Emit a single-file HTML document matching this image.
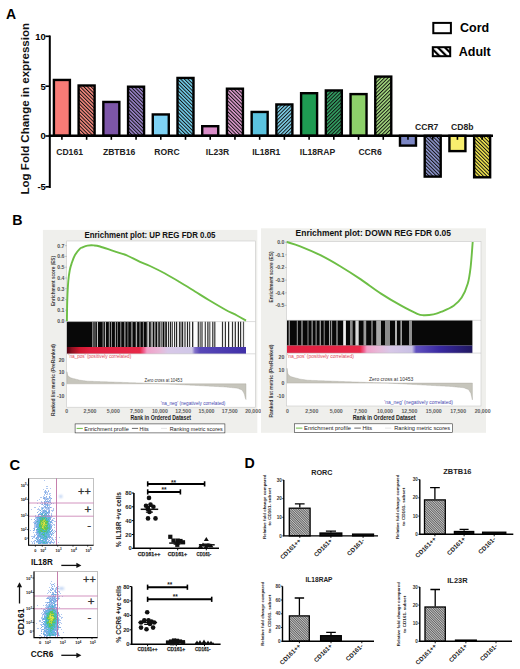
<!DOCTYPE html>
<html><head><meta charset="utf-8"><style>
html,body{margin:0;padding:0;background:#fff;width:520px;height:669px;overflow:hidden}
svg{display:block}
</style></head><body>
<svg width="520" height="669" viewBox="0 0 520 669">
<text x="6" y="18.5" font-size="14" font-weight="bold" font-family="Liberation Sans, sans-serif">A</text>
<text transform="translate(29.4,108.7) rotate(-90)" text-anchor="middle" font-size="11.7" font-weight="bold" fill="#111" textLength="171.5" lengthAdjust="spacingAndGlyphs" font-family="Liberation Sans, sans-serif">Log Fold Change in expression</text>
<rect x="53.90" y="79.95" width="16.00" height="55.85" fill="#F77B76" stroke="#000" stroke-width="2.4"/>
<defs><pattern id="h1" patternUnits="userSpaceOnUse" width="2.55" height="2.55" patternTransform="rotate(-45)"><rect width="2.55" height="2.55" fill="#F88A80"/><rect width="1.0" height="2.55" fill="#111"/></pattern></defs>
<rect x="78.62" y="85.50" width="16.00" height="50.30" fill="url(#h1)" stroke="#000" stroke-width="2.4"/>
<rect x="103.34" y="101.95" width="16.00" height="33.85" fill="#7D56A8" stroke="#000" stroke-width="2.4"/>
<defs><pattern id="h3" patternUnits="userSpaceOnUse" width="2.55" height="2.55" patternTransform="rotate(-45)"><rect width="2.55" height="2.55" fill="#9C84CC"/><rect width="1.0" height="2.55" fill="#111"/></pattern></defs>
<rect x="128.06" y="86.70" width="16.00" height="49.10" fill="url(#h3)" stroke="#000" stroke-width="2.4"/>
<rect x="152.78" y="114.45" width="16.00" height="21.35" fill="#7ED2F4" stroke="#000" stroke-width="2.4"/>
<defs><pattern id="h5" patternUnits="userSpaceOnUse" width="2.55" height="2.55" patternTransform="rotate(-45)"><rect width="2.55" height="2.55" fill="#74D2F0"/><rect width="1.0" height="2.55" fill="#111"/></pattern></defs>
<rect x="177.50" y="77.95" width="16.00" height="57.85" fill="url(#h5)" stroke="#000" stroke-width="2.4"/>
<rect x="202.22" y="126.20" width="16.00" height="9.60" fill="#D98DC8" stroke="#000" stroke-width="2.4"/>
<defs><pattern id="h7" patternUnits="userSpaceOnUse" width="2.55" height="2.55" patternTransform="rotate(-45)"><rect width="2.55" height="2.55" fill="#E09CD0"/><rect width="1.0" height="2.55" fill="#111"/></pattern></defs>
<rect x="226.94" y="88.70" width="16.00" height="47.10" fill="url(#h7)" stroke="#000" stroke-width="2.4"/>
<rect x="251.66" y="111.95" width="16.00" height="23.85" fill="#5BC3DF" stroke="#000" stroke-width="2.4"/>
<defs><pattern id="h9" patternUnits="userSpaceOnUse" width="2.55" height="2.55" patternTransform="rotate(45)"><rect width="2.55" height="2.55" fill="#80D4EE"/><rect width="1.0" height="2.55" fill="#111"/></pattern></defs>
<rect x="276.38" y="104.45" width="16.00" height="31.35" fill="url(#h9)" stroke="#000" stroke-width="2.4"/>
<rect x="301.10" y="93.20" width="16.00" height="42.60" fill="#1E9A52" stroke="#000" stroke-width="2.4"/>
<defs><pattern id="h11" patternUnits="userSpaceOnUse" width="2.55" height="2.55" patternTransform="rotate(45)"><rect width="2.55" height="2.55" fill="#33A464"/><rect width="1.0" height="2.55" fill="#111"/></pattern></defs>
<rect x="325.82" y="90.45" width="16.00" height="45.35" fill="url(#h11)" stroke="#000" stroke-width="2.4"/>
<rect x="350.54" y="94.10" width="16.00" height="41.70" fill="#8DD06A" stroke="#000" stroke-width="2.4"/>
<defs><pattern id="h13" patternUnits="userSpaceOnUse" width="2.55" height="2.55" patternTransform="rotate(45)"><rect width="2.55" height="2.55" fill="#A6DC80"/><rect width="1.0" height="2.55" fill="#111"/></pattern></defs>
<rect x="375.26" y="76.60" width="16.00" height="59.20" fill="url(#h13)" stroke="#000" stroke-width="2.4"/>
<rect x="399.98" y="135.80" width="16.00" height="9.80" fill="#7B86C4" stroke="#000" stroke-width="2.4"/>
<defs><pattern id="h15" patternUnits="userSpaceOnUse" width="2.55" height="2.55" patternTransform="rotate(-45)"><rect width="2.55" height="2.55" fill="#8E97D0"/><rect width="1.0" height="2.55" fill="#111"/></pattern></defs>
<rect x="424.70" y="135.80" width="16.00" height="40.80" fill="url(#h15)" stroke="#000" stroke-width="2.4"/>
<rect x="449.42" y="135.80" width="16.00" height="15.30" fill="#F8EE6E" stroke="#000" stroke-width="2.4"/>
<defs><pattern id="h17" patternUnits="userSpaceOnUse" width="2.55" height="2.55" patternTransform="rotate(-45)"><rect width="2.55" height="2.55" fill="#F5E950"/><rect width="1.0" height="2.55" fill="#111"/></pattern></defs>
<rect x="474.14" y="135.80" width="16.00" height="41.50" fill="url(#h17)" stroke="#000" stroke-width="2.4"/>
<line x1="49.8" y1="35.5" x2="49.8" y2="188" stroke="#000" stroke-width="2"/>
<line x1="45.4" y1="36.3" x2="50" y2="36.3" stroke="#000" stroke-width="1.6"/>
<line x1="45.4" y1="86.2" x2="50" y2="86.2" stroke="#000" stroke-width="1.6"/>
<line x1="45.4" y1="136.0" x2="50" y2="136.0" stroke="#000" stroke-width="1.6"/>
<line x1="45.4" y1="186.8" x2="50" y2="186.8" stroke="#000" stroke-width="1.6"/>
<line x1="48.8" y1="135.8" x2="493" y2="135.8" stroke="#000" stroke-width="2.4"/>
<line x1="61.90" y1="135.8" x2="61.90" y2="139.8" stroke="#000" stroke-width="1.6"/>
<line x1="86.62" y1="135.8" x2="86.62" y2="139.8" stroke="#000" stroke-width="1.6"/>
<line x1="111.34" y1="135.8" x2="111.34" y2="139.8" stroke="#000" stroke-width="1.6"/>
<line x1="136.06" y1="135.8" x2="136.06" y2="139.8" stroke="#000" stroke-width="1.6"/>
<line x1="160.78" y1="135.8" x2="160.78" y2="139.8" stroke="#000" stroke-width="1.6"/>
<line x1="185.50" y1="135.8" x2="185.50" y2="139.8" stroke="#000" stroke-width="1.6"/>
<line x1="210.22" y1="135.8" x2="210.22" y2="139.8" stroke="#000" stroke-width="1.6"/>
<line x1="234.94" y1="135.8" x2="234.94" y2="139.8" stroke="#000" stroke-width="1.6"/>
<line x1="259.66" y1="135.8" x2="259.66" y2="139.8" stroke="#000" stroke-width="1.6"/>
<line x1="284.38" y1="135.8" x2="284.38" y2="139.8" stroke="#000" stroke-width="1.6"/>
<line x1="309.10" y1="135.8" x2="309.10" y2="139.8" stroke="#000" stroke-width="1.6"/>
<line x1="333.82" y1="135.8" x2="333.82" y2="139.8" stroke="#000" stroke-width="1.6"/>
<line x1="358.54" y1="135.8" x2="358.54" y2="139.8" stroke="#000" stroke-width="1.6"/>
<line x1="383.26" y1="135.8" x2="383.26" y2="139.8" stroke="#000" stroke-width="1.6"/>
<line x1="407.98" y1="135.8" x2="407.98" y2="139.8" stroke="#000" stroke-width="1.6"/>
<line x1="432.70" y1="135.8" x2="432.70" y2="139.8" stroke="#000" stroke-width="1.6"/>
<line x1="457.42" y1="135.8" x2="457.42" y2="139.8" stroke="#000" stroke-width="1.6"/>
<line x1="482.14" y1="135.8" x2="482.14" y2="139.8" stroke="#000" stroke-width="1.6"/>
<text x="45.8" y="39.7" text-anchor="end" font-size="9.4" font-weight="bold" font-family="Liberation Sans, sans-serif">10</text>
<text x="45.8" y="89.6" text-anchor="end" font-size="9.4" font-weight="bold" font-family="Liberation Sans, sans-serif">5</text>
<text x="45.8" y="139.4" text-anchor="end" font-size="9.4" font-weight="bold" font-family="Liberation Sans, sans-serif">0</text>
<text x="45.8" y="190.2" text-anchor="end" font-size="9.4" font-weight="bold" font-family="Liberation Sans, sans-serif">-5</text>
<text x="56.2" y="154.6" font-size="8.6" font-weight="bold" fill="#222" font-family="Liberation Sans, sans-serif">CD161</text>
<text x="102.9" y="154.6" font-size="8.6" font-weight="bold" fill="#222" font-family="Liberation Sans, sans-serif">ZBTB16</text>
<text x="154.3" y="154.6" font-size="8.6" font-weight="bold" fill="#222" font-family="Liberation Sans, sans-serif">RORC</text>
<text x="205.8" y="154.6" font-size="8.6" font-weight="bold" fill="#222" font-family="Liberation Sans, sans-serif">IL23R</text>
<text x="252.2" y="154.6" font-size="8.6" font-weight="bold" fill="#222" font-family="Liberation Sans, sans-serif">IL18R1</text>
<text x="299.8" y="154.6" font-size="8.6" font-weight="bold" fill="#222" font-family="Liberation Sans, sans-serif">IL18RAP</text>
<text x="358.4" y="154.6" font-size="8.6" font-weight="bold" fill="#222" font-family="Liberation Sans, sans-serif">CCR6</text>
<text x="415" y="130" font-size="8.6" font-weight="bold" fill="#222" font-family="Liberation Sans, sans-serif">CCR7</text>
<text x="451" y="130" font-size="8.6" font-weight="bold" fill="#222" font-family="Liberation Sans, sans-serif">CD8b</text>
<rect x="433.3" y="22.9" width="17.6" height="10.3" fill="#fff" stroke="#000" stroke-width="2"/>
<defs><pattern id="hl" patternUnits="userSpaceOnUse" width="5" height="5" patternTransform="rotate(-45)"><rect width="5" height="5" fill="#fff"/><rect width="2.2" height="5" fill="#000"/></pattern></defs>
<rect x="432.8" y="47.2" width="17.4" height="9" fill="url(#hl)" stroke="#000" stroke-width="2"/>
<text x="460" y="32.3" font-size="12.5" font-weight="bold" font-family="Liberation Sans, sans-serif">Cord</text>
<text x="458.8" y="56" font-size="12.5" font-weight="bold" font-family="Liberation Sans, sans-serif">Adult</text>
<text x="12.3" y="224.5" font-size="14.2" font-weight="bold" font-family="Liberation Sans, sans-serif">B</text>
<rect x="42.9" y="229.9" width="214.4" height="203.1" fill="#EFEFEC"/>
<rect x="66.7" y="241.0" width="188.7" height="166.2" fill="#fff" stroke="#C8C8C8" stroke-width="0.6"/>
<text x="84.4" y="237.7" font-size="9.6" font-weight="bold" fill="#111" textLength="131.1" lengthAdjust="spacingAndGlyphs" font-family="Liberation Sans, sans-serif">Enrichment plot: UP REG FDR 0.05</text>
<text x="64.5" y="322.9" text-anchor="end" font-size="5.2" font-weight="bold" fill="#505050" font-family="Liberation Sans, sans-serif">0.0</text>
<line x1="65.2" y1="321.0" x2="66.7" y2="321.0" stroke="#888" stroke-width="0.5"/>
<text x="64.5" y="312.1" text-anchor="end" font-size="5.2" font-weight="bold" fill="#505050" font-family="Liberation Sans, sans-serif">0.1</text>
<line x1="65.2" y1="310.2" x2="66.7" y2="310.2" stroke="#888" stroke-width="0.5"/>
<text x="64.5" y="301.4" text-anchor="end" font-size="5.2" font-weight="bold" fill="#505050" font-family="Liberation Sans, sans-serif">0.2</text>
<line x1="65.2" y1="299.5" x2="66.7" y2="299.5" stroke="#888" stroke-width="0.5"/>
<text x="64.5" y="290.6" text-anchor="end" font-size="5.2" font-weight="bold" fill="#505050" font-family="Liberation Sans, sans-serif">0.3</text>
<line x1="65.2" y1="288.7" x2="66.7" y2="288.7" stroke="#888" stroke-width="0.5"/>
<text x="64.5" y="279.9" text-anchor="end" font-size="5.2" font-weight="bold" fill="#505050" font-family="Liberation Sans, sans-serif">0.4</text>
<line x1="65.2" y1="278.0" x2="66.7" y2="278.0" stroke="#888" stroke-width="0.5"/>
<text x="64.5" y="269.1" text-anchor="end" font-size="5.2" font-weight="bold" fill="#505050" font-family="Liberation Sans, sans-serif">0.5</text>
<line x1="65.2" y1="267.2" x2="66.7" y2="267.2" stroke="#888" stroke-width="0.5"/>
<text x="64.5" y="258.3" text-anchor="end" font-size="5.2" font-weight="bold" fill="#505050" font-family="Liberation Sans, sans-serif">0.6</text>
<line x1="65.2" y1="256.4" x2="66.7" y2="256.4" stroke="#888" stroke-width="0.5"/>
<text x="64.5" y="247.6" text-anchor="end" font-size="5.2" font-weight="bold" fill="#505050" font-family="Liberation Sans, sans-serif">0.7</text>
<line x1="65.2" y1="245.7" x2="66.7" y2="245.7" stroke="#888" stroke-width="0.5"/>
<text transform="translate(54.8,281.0) rotate(-90)" text-anchor="middle" font-size="5.8" font-weight="bold" fill="#3a3a3a" textLength="50.0" lengthAdjust="spacingAndGlyphs" font-family="Liberation Sans, sans-serif">Enrichment score (ES)</text>
<text transform="translate(54.8,380.0) rotate(-90)" text-anchor="middle" font-size="5.8" font-weight="bold" fill="#3a3a3a" textLength="72.0" lengthAdjust="spacingAndGlyphs" font-family="Liberation Sans, sans-serif">Ranked list metric (PreRanked)</text>
<rect x="66.9" y="321.6" width="99.1" height="25.4" fill="#080808"/>
<rect x="92.30" y="321.6" width="1.10" height="25.4" fill="#b0b0b0"/>
<rect x="94.50" y="321.6" width="1.00" height="25.4" fill="#8a8a8a"/>
<rect x="96.90" y="321.6" width="1.10" height="25.4" fill="#c0c0c0"/>
<rect x="102.60" y="321.6" width="1.00" height="25.4" fill="#999"/>
<rect x="104.90" y="321.6" width="1.00" height="25.4" fill="#ccc"/>
<rect x="108.80" y="321.6" width="1.00" height="25.4" fill="#a0a0a0"/>
<rect x="111.00" y="321.6" width="1.00" height="25.4" fill="#888"/>
<rect x="114.90" y="321.6" width="1.00" height="25.4" fill="#aaa"/>
<rect x="117.20" y="321.6" width="0.80" height="25.4" fill="#888"/>
<rect x="120.30" y="321.6" width="1.00" height="25.4" fill="#999"/>
<rect x="124.10" y="321.6" width="1.50" height="25.4" fill="#888"/>
<rect x="127.50" y="321.6" width="0.80" height="25.4" fill="#999"/>
<rect x="130.90" y="321.6" width="1.90" height="25.4" fill="#777"/>
<rect x="135.70" y="321.6" width="1.40" height="25.4" fill="#aaa"/>
<rect x="139.50" y="321.6" width="1.00" height="25.4" fill="#999"/>
<rect x="142.90" y="321.6" width="0.90" height="25.4" fill="#999"/>
<rect x="146.70" y="321.6" width="1.50" height="25.4" fill="#999"/>
<rect x="148.20" y="321.6" width="0.90" height="25.4" fill="#eee"/>
<rect x="150.60" y="321.6" width="2.40" height="25.4" fill="#999"/>
<rect x="154.40" y="321.6" width="1.00" height="25.4" fill="#ddd"/>
<rect x="157.30" y="321.6" width="1.00" height="25.4" fill="#eee"/>
<rect x="159.70" y="321.6" width="1.50" height="25.4" fill="#999"/>
<rect x="161.60" y="321.6" width="1.00" height="25.4" fill="#ddd"/>
<rect x="164.30" y="321.6" width="1.20" height="25.4" fill="#bbb"/>
<rect x="166.00" y="321.6" width="80.00" height="25.4" fill="#fcfcfc"/>
<rect x="165.70" y="321.6" width="1.20" height="25.4" fill="#111"/>
<rect x="167.90" y="321.6" width="1.20" height="25.4" fill="#2a2a2a"/>
<rect x="169.90" y="321.6" width="1.20" height="25.4" fill="#222"/>
<rect x="171.70" y="321.6" width="1.20" height="25.4" fill="#444"/>
<rect x="174.00" y="321.6" width="1.20" height="25.4" fill="#333"/>
<rect x="176.00" y="321.6" width="1.20" height="25.4" fill="#222"/>
<rect x="178.90" y="321.6" width="1.20" height="25.4" fill="#333"/>
<rect x="180.40" y="321.6" width="1.20" height="25.4" fill="#444"/>
<rect x="182.00" y="321.6" width="1.20" height="25.4" fill="#222"/>
<rect x="184.40" y="321.6" width="1.20" height="25.4" fill="#333"/>
<rect x="186.90" y="321.6" width="1.20" height="25.4" fill="#222"/>
<rect x="189.00" y="321.6" width="1.20" height="25.4" fill="#444"/>
<rect x="192.10" y="321.6" width="1.20" height="25.4" fill="#111"/>
<rect x="197.70" y="321.6" width="1.20" height="25.4" fill="#2a2a2a"/>
<rect x="199.60" y="321.6" width="1.20" height="25.4" fill="#555"/>
<rect x="201.40" y="321.6" width="1.20" height="25.4" fill="#333"/>
<rect x="204.70" y="321.6" width="1.20" height="25.4" fill="#444"/>
<rect x="207.30" y="321.6" width="1.20" height="25.4" fill="#222"/>
<rect x="209.20" y="321.6" width="1.20" height="25.4" fill="#555"/>
<rect x="212.20" y="321.6" width="1.20" height="25.4" fill="#2a2a2a"/>
<rect x="214.20" y="321.6" width="1.20" height="25.4" fill="#333"/>
<rect x="221.90" y="321.6" width="1.20" height="25.4" fill="#333"/>
<rect x="224.80" y="321.6" width="1.20" height="25.4" fill="#333"/>
<rect x="228.00" y="321.6" width="1.20" height="25.4" fill="#2a2a2a"/>
<rect x="231.90" y="321.6" width="1.20" height="25.4" fill="#333"/>
<rect x="234.70" y="321.6" width="1.20" height="25.4" fill="#2a2a2a"/>
<rect x="237.80" y="321.6" width="1.20" height="25.4" fill="#222"/>
<rect x="240.00" y="321.6" width="1.20" height="25.4" fill="#333"/>
<rect x="242.90" y="321.6" width="1.20" height="25.4" fill="#555"/>
<defs><linearGradient id="gL" x1="66.9" x2="246.0" gradientUnits="userSpaceOnUse"><stop offset="0.000" stop-color="#500010"/><stop offset="0.028" stop-color="#901020"/><stop offset="0.073" stop-color="#D01830"/><stop offset="0.128" stop-color="#E02040"/><stop offset="0.408" stop-color="#E82848"/><stop offset="0.430" stop-color="#F06090"/><stop offset="0.447" stop-color="#F0A0C8"/><stop offset="0.520" stop-color="#E8B8D8"/><stop offset="0.564" stop-color="#D8C8E8"/><stop offset="0.698" stop-color="#D0C8E8"/><stop offset="0.715" stop-color="#8070C8"/><stop offset="0.743" stop-color="#5848B8"/><stop offset="1.000" stop-color="#4030A8"/></linearGradient></defs>
<rect x="66.9" y="347.0" width="179.1" height="6.8" fill="url(#gL)"/>
<line x1="66.7" y1="321.6" x2="255.4" y2="321.6" stroke="#bbb" stroke-width="0.5"/>
<line x1="66.7" y1="353.8" x2="255.4" y2="353.8" stroke="#bbb" stroke-width="0.5"/>
<path d="M66.9,383.8 L66.90,371.79 L67.65,375.13 L68.39,376.33 L69.14,376.85 L69.89,377.37 L70.63,377.81 L71.38,378.01 L72.12,378.22 L72.87,378.42 L73.62,378.63 L74.36,378.81 L75.11,379.00 L75.86,379.19 L76.60,379.38 L77.35,379.57 L78.09,379.75 L78.84,379.94 L79.59,380.13 L80.33,380.25 L81.08,380.35 L81.83,380.45 L82.57,380.55 L83.32,380.65 L84.06,380.74 L84.81,380.84 L85.56,380.94 L86.30,381.04 L87.05,381.14 L87.80,381.17 L88.54,381.19 L89.29,381.22 L90.03,381.25 L90.78,381.27 L91.53,381.30 L92.27,381.33 L93.02,381.36 L93.77,381.38 L94.51,381.41 L95.26,381.44 L96.00,381.46 L96.75,381.49 L97.50,381.52 L98.24,381.54 L98.99,381.57 L99.74,381.60 L100.48,381.63 L101.23,381.65 L101.97,381.68 L102.72,381.71 L103.47,381.73 L104.21,381.76 L104.96,381.79 L105.70,381.81 L106.45,381.84 L107.20,381.87 L107.94,381.90 L108.69,381.92 L109.44,381.95 L110.18,381.98 L110.93,382.00 L111.68,382.03 L112.42,382.06 L113.17,382.08 L113.91,382.11 L114.66,382.14 L115.41,382.16 L116.15,382.19 L116.90,382.22 L117.65,382.24 L118.39,382.27 L119.14,382.30 L119.88,382.32 L120.63,382.35 L121.38,382.37 L122.12,382.40 L122.87,382.43 L123.62,382.45 L124.36,382.48 L125.11,382.51 L125.85,382.53 L126.60,382.56 L127.35,382.58 L128.09,382.61 L128.84,382.64 L129.59,382.66 L130.33,382.69 L131.08,382.72 L131.82,382.74 L132.57,382.77 L133.32,382.79 L134.06,382.82 L134.81,382.85 L135.56,382.87 L136.30,382.90 L137.05,382.93 L137.79,382.95 L138.54,382.98 L139.29,383.00 L140.03,383.03 L140.78,383.06 L141.53,383.08 L142.27,383.11 L143.02,383.13 L143.76,383.15 L144.51,383.18 L145.26,383.20 L146.00,383.22 L146.75,383.25 L147.50,383.27 L148.24,383.30 L148.99,383.32 L149.73,383.34 L150.48,383.37 L151.23,383.39 L151.97,383.41 L152.72,383.44 L153.47,383.46 L154.21,383.49 L154.96,383.51 L155.70,383.53 L156.45,383.56 L157.20,383.58 L157.94,383.60 L158.69,383.63 L159.44,383.65 L160.18,383.67 L160.93,383.70 L161.67,383.72 L162.42,383.75 L163.17,383.77 L163.91,383.79 L164.66,383.83 L165.41,383.87 L166.15,383.90 L166.90,383.94 L167.64,383.98 L168.39,384.02 L169.14,384.06 L169.88,384.10 L170.63,384.13 L171.38,384.17 L172.12,384.21 L172.87,384.25 L173.61,384.29 L174.36,384.32 L175.11,384.36 L175.85,384.40 L176.60,384.44 L177.34,384.48 L178.09,384.52 L178.84,384.55 L179.58,384.59 L180.33,384.63 L181.08,384.67 L181.82,384.71 L182.57,384.75 L183.31,384.78 L184.06,384.82 L184.81,384.86 L185.55,384.90 L186.30,384.94 L187.05,384.97 L187.79,385.01 L188.54,385.05 L189.28,385.09 L190.03,385.13 L190.78,385.17 L191.52,385.20 L192.27,385.24 L193.02,385.28 L193.76,385.32 L194.51,385.36 L195.25,385.40 L196.00,385.43 L196.75,385.47 L197.49,385.51 L198.24,385.55 L198.99,385.59 L199.73,385.63 L200.48,385.67 L201.22,385.70 L201.97,385.74 L202.72,385.78 L203.46,385.82 L204.21,385.86 L204.96,385.90 L205.70,385.94 L206.45,385.98 L207.19,386.01 L207.94,386.05 L208.69,386.09 L209.43,386.13 L210.18,386.17 L210.93,386.21 L211.67,386.25 L212.42,386.29 L213.16,386.32 L213.91,386.36 L214.66,386.40 L215.40,386.44 L216.15,386.48 L216.90,386.52 L217.64,386.56 L218.39,386.60 L219.14,386.63 L219.88,386.67 L220.63,386.71 L221.37,386.75 L222.12,386.79 L222.87,386.83 L223.61,386.87 L224.36,386.91 L225.10,386.94 L225.85,387.02 L226.60,387.09 L227.34,387.17 L228.09,387.24 L228.84,387.32 L229.58,387.39 L230.33,387.46 L231.08,387.54 L231.82,387.61 L232.57,387.69 L233.31,387.76 L234.06,387.84 L234.81,387.91 L235.55,387.99 L236.30,388.06 L237.04,388.13 L237.79,388.35 L238.54,388.62 L239.28,388.89 L240.03,389.16 L240.78,389.44 L241.52,389.71 L242.27,390.40 L243.01,391.56 L243.76,392.72 L244.51,394.61 L245.25,397.84 L246.00,399.53 L246.0,383.8 Z" fill="#C6C5BC" stroke="#A8A79E" stroke-width="0.4"/>
<text x="64.5" y="361.5" text-anchor="end" font-size="5.2" font-weight="bold" fill="#505050" font-family="Liberation Sans, sans-serif">20</text>
<text x="64.5" y="373.6" text-anchor="end" font-size="5.2" font-weight="bold" fill="#505050" font-family="Liberation Sans, sans-serif">10</text>
<text x="64.5" y="385.7" text-anchor="end" font-size="5.2" font-weight="bold" fill="#505050" font-family="Liberation Sans, sans-serif">0</text>
<text x="64.5" y="397.8" text-anchor="end" font-size="5.2" font-weight="bold" fill="#505050" font-family="Liberation Sans, sans-serif">-10</text>
<text x="68.5" y="357.8" font-size="4.6" fill="#E04858" textLength="62.7" lengthAdjust="spacingAndGlyphs" font-family="Liberation Sans, sans-serif">'na_pos' (positively correlated)</text>
<text x="144.6" y="381.8" font-size="4.6" fill="#333" textLength="37.7" lengthAdjust="spacingAndGlyphs" font-family="Liberation Sans, sans-serif">Zero cross at 10453</text>
<text x="160.8" y="405.0" font-size="4.6" fill="#4848B0" textLength="64.6" lengthAdjust="spacingAndGlyphs" font-family="Liberation Sans, sans-serif">'na_neg' (negatively correlated)</text>
<text x="66.7" y="413.4" text-anchor="middle" font-size="5.2" font-weight="bold" fill="#606060" font-family="Liberation Sans, sans-serif">0</text>
<text x="90.0" y="413.4" text-anchor="middle" font-size="5.2" font-weight="bold" fill="#606060" font-family="Liberation Sans, sans-serif">2,500</text>
<text x="113.3" y="413.4" text-anchor="middle" font-size="5.2" font-weight="bold" fill="#606060" font-family="Liberation Sans, sans-serif">5,000</text>
<text x="136.6" y="413.4" text-anchor="middle" font-size="5.2" font-weight="bold" fill="#606060" font-family="Liberation Sans, sans-serif">7,500</text>
<text x="159.9" y="413.4" text-anchor="middle" font-size="5.2" font-weight="bold" fill="#606060" font-family="Liberation Sans, sans-serif">10,000</text>
<text x="183.2" y="413.4" text-anchor="middle" font-size="5.2" font-weight="bold" fill="#606060" font-family="Liberation Sans, sans-serif">12,500</text>
<text x="206.5" y="413.4" text-anchor="middle" font-size="5.2" font-weight="bold" fill="#606060" font-family="Liberation Sans, sans-serif">15,000</text>
<text x="229.8" y="413.4" text-anchor="middle" font-size="5.2" font-weight="bold" fill="#606060" font-family="Liberation Sans, sans-serif">17,500</text>
<text x="253.1" y="413.4" text-anchor="middle" font-size="5.2" font-weight="bold" fill="#606060" font-family="Liberation Sans, sans-serif">20,000</text>
<text x="130.5" y="420.2" font-size="7" font-weight="bold" fill="#222" textLength="60.5" lengthAdjust="spacingAndGlyphs" font-family="Liberation Sans, sans-serif">Rank in Ordered Dataset</text>
<path d="M66.90,321.00 C66.97,317.42 67.07,306.17 67.30,299.50 C67.53,292.83 67.88,285.92 68.30,281.00 C68.72,276.08 69.25,272.92 69.80,270.00 C70.35,267.08 70.73,266.00 71.60,263.50 C72.47,261.00 73.60,257.47 75.00,255.00 C76.40,252.53 78.75,249.98 80.00,248.70 C81.25,247.42 81.25,247.82 82.50,247.30 C83.75,246.78 85.62,245.92 87.50,245.60 C89.38,245.28 91.72,245.25 93.80,245.40 C95.88,245.55 96.67,245.55 100.00,246.50 C103.33,247.45 109.70,249.77 113.80,251.10 C117.90,252.43 122.03,253.60 124.60,254.50 C127.17,255.40 126.63,255.28 129.20,256.50 C131.77,257.72 136.53,260.22 140.00,261.80 C143.47,263.38 145.83,264.05 150.00,266.00 C154.17,267.95 160.07,270.83 165.00,273.50 C169.93,276.17 174.60,279.00 179.60,282.00 C184.60,285.00 190.07,288.45 195.00,291.50 C199.93,294.55 204.20,297.30 209.20,300.30 C214.20,303.30 220.37,306.97 225.00,309.50 C229.63,312.03 233.50,313.65 237.00,315.50 C240.50,317.35 244.50,319.75 246.00,320.60" fill="none" stroke="#6DBE45" stroke-width="1.9" stroke-linejoin="round"/>
<rect x="75.1" y="423.9" width="149.8" height="9.0" fill="#fff" stroke="#333" stroke-width="0.6"/>
<line x1="76.6" y1="428.4" x2="82.8" y2="428.4" stroke="#6DBE45" stroke-width="1"/>
<text x="84.3" y="430.6" font-size="6.2" fill="#222" textLength="44.5" lengthAdjust="spacingAndGlyphs" font-family="Liberation Sans, sans-serif">Enrichment profile</text>
<line x1="131.9" y1="428.4" x2="138.1" y2="428.4" stroke="#444" stroke-width="0.8"/>
<text x="139.6" y="430.6" font-size="6.2" fill="#222" textLength="9.2" lengthAdjust="spacingAndGlyphs" font-family="Liberation Sans, sans-serif">Hits</text>
<line x1="161.0" y1="428.4" x2="167.0" y2="428.4" stroke="#ddd" stroke-width="0.8"/>
<text x="169.7" y="430.6" font-size="6.2" fill="#222" textLength="52.9" lengthAdjust="spacingAndGlyphs" font-family="Liberation Sans, sans-serif">Ranking metric scores</text>
<rect x="261.0" y="228.3" width="225.0" height="204.5" fill="#EFEFEC"/>
<rect x="286.6" y="241.6" width="194.4" height="164.4" fill="#fff" stroke="#C8C8C8" stroke-width="0.6"/>
<text x="295.6" y="235.7" font-size="9.6" font-weight="bold" fill="#111" textLength="155.4" lengthAdjust="spacingAndGlyphs" font-family="Liberation Sans, sans-serif">Enrichment plot: DOWN REG FDR 0.05</text>
<text x="284.4" y="244.1" text-anchor="end" font-size="5.2" font-weight="bold" fill="#505050" font-family="Liberation Sans, sans-serif">0.0</text>
<line x1="285.1" y1="242.2" x2="286.6" y2="242.2" stroke="#888" stroke-width="0.5"/>
<text x="284.4" y="256.7" text-anchor="end" font-size="5.2" font-weight="bold" fill="#505050" font-family="Liberation Sans, sans-serif">-0.1</text>
<line x1="285.1" y1="254.8" x2="286.6" y2="254.8" stroke="#888" stroke-width="0.5"/>
<text x="284.4" y="269.4" text-anchor="end" font-size="5.2" font-weight="bold" fill="#505050" font-family="Liberation Sans, sans-serif">-0.2</text>
<line x1="285.1" y1="267.5" x2="286.6" y2="267.5" stroke="#888" stroke-width="0.5"/>
<text x="284.4" y="282.0" text-anchor="end" font-size="5.2" font-weight="bold" fill="#505050" font-family="Liberation Sans, sans-serif">-0.3</text>
<line x1="285.1" y1="280.1" x2="286.6" y2="280.1" stroke="#888" stroke-width="0.5"/>
<text x="284.4" y="294.7" text-anchor="end" font-size="5.2" font-weight="bold" fill="#505050" font-family="Liberation Sans, sans-serif">-0.4</text>
<line x1="285.1" y1="292.8" x2="286.6" y2="292.8" stroke="#888" stroke-width="0.5"/>
<text x="284.4" y="307.3" text-anchor="end" font-size="5.2" font-weight="bold" fill="#505050" font-family="Liberation Sans, sans-serif">-0.5</text>
<line x1="285.1" y1="305.4" x2="286.6" y2="305.4" stroke="#888" stroke-width="0.5"/>
<text transform="translate(273.4,277.0) rotate(-90)" text-anchor="middle" font-size="5.8" font-weight="bold" fill="#3a3a3a" textLength="51.0" lengthAdjust="spacingAndGlyphs" font-family="Liberation Sans, sans-serif">Enrichment score (ES)</text>
<text transform="translate(273.4,381.0) rotate(-90)" text-anchor="middle" font-size="5.8" font-weight="bold" fill="#3a3a3a" textLength="73.0" lengthAdjust="spacingAndGlyphs" font-family="Liberation Sans, sans-serif">Ranked list metric (PreRanked)</text>
<rect x="287.0" y="320.3" width="185.4" height="25.3" fill="#080808"/>
<rect x="288.70" y="320.3" width="1.00" height="25.3" fill="#c0c0c0"/>
<rect x="296.80" y="320.3" width="1.00" height="25.3" fill="#a0a0a0"/>
<rect x="301.50" y="320.3" width="1.00" height="25.3" fill="#d0d0d0"/>
<rect x="307.50" y="320.3" width="1.00" height="25.3" fill="#909090"/>
<rect x="311.60" y="320.3" width="1.00" height="25.3" fill="#c0c0c0"/>
<rect x="315.60" y="320.3" width="1.00" height="25.3" fill="#a8a8a8"/>
<rect x="319.70" y="320.3" width="1.00" height="25.3" fill="#d0d0d0"/>
<rect x="323.70" y="320.3" width="1.00" height="25.3" fill="#909090"/>
<rect x="329.10" y="320.3" width="1.00" height="25.3" fill="#b8b8b8"/>
<rect x="331.10" y="320.3" width="1.00" height="25.3" fill="#a0a0a0"/>
<rect x="336.50" y="320.3" width="1.00" height="25.3" fill="#d0d0d0"/>
<rect x="343.20" y="320.3" width="2.70" height="25.3" fill="#f0f0f0"/>
<rect x="350.00" y="320.3" width="2.70" height="25.3" fill="#8a8a8a"/>
<rect x="355.40" y="320.3" width="3.30" height="25.3" fill="#d8d8d8"/>
<rect x="363.50" y="320.3" width="2.70" height="25.3" fill="#9a9a9a"/>
<rect x="371.50" y="320.3" width="1.00" height="25.3" fill="#c8c8c8"/>
<rect x="376.20" y="320.3" width="4.80" height="25.3" fill="#a8a8a8"/>
<rect x="385.00" y="320.3" width="5.00" height="25.3" fill="#8a8a8a"/>
<rect x="395.00" y="320.3" width="2.00" height="25.3" fill="#b0b0b0"/>
<rect x="400.50" y="320.3" width="1.30" height="25.3" fill="#c8c8c8"/>
<rect x="409.00" y="320.3" width="3.00" height="25.3" fill="#909090"/>
<defs><linearGradient id="gR" x1="287.0" x2="472.4" gradientUnits="userSpaceOnUse"><stop offset="0.000" stop-color="#E02040"/><stop offset="0.394" stop-color="#E82848"/><stop offset="0.415" stop-color="#F06090"/><stop offset="0.431" stop-color="#F0A0C8"/><stop offset="0.491" stop-color="#E8B8D8"/><stop offset="0.556" stop-color="#D8C8E8"/><stop offset="0.674" stop-color="#C8C0E4"/><stop offset="0.696" stop-color="#6050C0"/><stop offset="0.825" stop-color="#3828A0"/><stop offset="1.000" stop-color="#201860"/></linearGradient></defs>
<rect x="287.0" y="345.6" width="185.4" height="7.5" fill="url(#gR)"/>
<line x1="286.6" y1="320.3" x2="481.0" y2="320.3" stroke="#bbb" stroke-width="0.5"/>
<line x1="286.6" y1="353.1" x2="481.0" y2="353.1" stroke="#bbb" stroke-width="0.5"/>
<path d="M287.0,383.1 L287.00,368.27 L287.77,373.30 L288.55,374.98 L289.32,375.54 L290.09,376.09 L290.86,376.65 L291.63,376.87 L292.41,377.09 L293.18,377.31 L293.95,377.53 L294.73,377.73 L295.50,377.93 L296.27,378.13 L297.04,378.33 L297.81,378.53 L298.59,378.73 L299.36,378.93 L300.13,379.13 L300.90,379.28 L301.68,379.39 L302.45,379.49 L303.22,379.60 L304.00,379.71 L304.77,379.81 L305.54,379.92 L306.31,380.02 L307.08,380.13 L307.86,380.24 L308.63,380.28 L309.40,380.31 L310.18,380.34 L310.95,380.37 L311.72,380.40 L312.49,380.43 L313.26,380.46 L314.04,380.48 L314.81,380.51 L315.58,380.54 L316.36,380.57 L317.13,380.60 L317.90,380.63 L318.67,380.66 L319.44,380.69 L320.22,380.72 L320.99,380.74 L321.76,380.77 L322.53,380.80 L323.31,380.83 L324.08,380.86 L324.85,380.89 L325.62,380.92 L326.40,380.95 L327.17,380.97 L327.94,381.00 L328.71,381.03 L329.49,381.06 L330.26,381.09 L331.03,381.12 L331.81,381.15 L332.58,381.18 L333.35,381.20 L334.12,381.23 L334.89,381.26 L335.67,381.29 L336.44,381.32 L337.21,381.35 L337.99,381.37 L338.76,381.40 L339.53,381.43 L340.30,381.46 L341.07,381.49 L341.85,381.51 L342.62,381.54 L343.39,381.57 L344.16,381.60 L344.94,381.63 L345.71,381.65 L346.48,381.68 L347.25,381.71 L348.03,381.74 L348.80,381.77 L349.57,381.79 L350.34,381.82 L351.12,381.85 L351.89,381.88 L352.66,381.91 L353.44,381.93 L354.21,381.96 L354.98,381.99 L355.75,382.02 L356.52,382.05 L357.30,382.07 L358.07,382.10 L358.84,382.13 L359.62,382.16 L360.39,382.19 L361.16,382.21 L361.93,382.24 L362.70,382.27 L363.48,382.30 L364.25,382.33 L365.02,382.35 L365.80,382.38 L366.57,382.40 L367.34,382.43 L368.11,382.45 L368.88,382.48 L369.66,382.50 L370.43,382.53 L371.20,382.55 L371.97,382.58 L372.75,382.60 L373.52,382.63 L374.29,382.65 L375.06,382.68 L375.84,382.70 L376.61,382.73 L377.38,382.76 L378.15,382.78 L378.93,382.81 L379.70,382.83 L380.47,382.86 L381.25,382.88 L382.02,382.91 L382.79,382.93 L383.56,382.96 L384.33,382.98 L385.11,383.01 L385.88,383.03 L386.65,383.06 L387.42,383.08 L388.20,383.11 L388.97,383.15 L389.74,383.20 L390.51,383.24 L391.29,383.28 L392.06,383.32 L392.83,383.36 L393.61,383.40 L394.38,383.44 L395.15,383.48 L395.92,383.52 L396.69,383.56 L397.47,383.60 L398.24,383.64 L399.01,383.68 L399.78,383.72 L400.56,383.77 L401.33,383.81 L402.10,383.85 L402.88,383.89 L403.65,383.93 L404.42,383.97 L405.19,384.01 L405.96,384.05 L406.74,384.09 L407.51,384.13 L408.28,384.17 L409.06,384.21 L409.83,384.25 L410.60,384.30 L411.37,384.34 L412.14,384.38 L412.92,384.42 L413.69,384.46 L414.46,384.50 L415.24,384.54 L416.01,384.58 L416.78,384.62 L417.55,384.66 L418.32,384.70 L419.10,384.74 L419.87,384.78 L420.64,384.82 L421.41,384.87 L422.19,384.91 L422.96,384.95 L423.73,384.99 L424.50,385.03 L425.28,385.07 L426.05,385.11 L426.82,385.15 L427.59,385.19 L428.37,385.24 L429.14,385.28 L429.91,385.32 L430.68,385.36 L431.46,385.40 L432.23,385.44 L433.00,385.48 L433.77,385.53 L434.55,385.57 L435.32,385.61 L436.09,385.65 L436.87,385.69 L437.64,385.73 L438.41,385.77 L439.18,385.81 L439.95,385.86 L440.73,385.90 L441.50,385.94 L442.27,385.98 L443.04,386.02 L443.82,386.06 L444.59,386.10 L445.36,386.14 L446.13,386.19 L446.91,386.23 L447.68,386.27 L448.45,386.31 L449.22,386.35 L450.00,386.39 L450.77,386.43 L451.54,386.49 L452.31,386.57 L453.09,386.65 L453.86,386.73 L454.63,386.81 L455.40,386.89 L456.18,386.97 L456.95,387.05 L457.72,387.13 L458.50,387.21 L459.27,387.29 L460.04,387.37 L460.81,387.45 L461.58,387.53 L462.36,387.61 L463.13,387.68 L463.90,387.82 L464.67,388.11 L465.45,388.39 L466.22,388.68 L466.99,388.97 L467.76,389.26 L468.54,389.55 L469.31,390.79 L470.08,392.03 L470.86,393.27 L471.63,396.43 L472.40,399.87 L472.4,383.1 Z" fill="#C6C5BC" stroke="#A8A79E" stroke-width="0.4"/>
<text x="284.4" y="359.2" text-anchor="end" font-size="5.2" font-weight="bold" fill="#505050" font-family="Liberation Sans, sans-serif">20</text>
<text x="284.4" y="372.1" text-anchor="end" font-size="5.2" font-weight="bold" fill="#505050" font-family="Liberation Sans, sans-serif">10</text>
<text x="284.4" y="385.0" text-anchor="end" font-size="5.2" font-weight="bold" fill="#505050" font-family="Liberation Sans, sans-serif">0</text>
<text x="284.4" y="397.9" text-anchor="end" font-size="5.2" font-weight="bold" fill="#505050" font-family="Liberation Sans, sans-serif">-10</text>
<text x="287.3" y="358.0" font-size="4.6" fill="#E04858" textLength="66.6" lengthAdjust="spacingAndGlyphs" font-family="Liberation Sans, sans-serif">'na_pos' (positively correlated)</text>
<text x="368.9" y="381.1" font-size="4.6" fill="#333" textLength="44.4" lengthAdjust="spacingAndGlyphs" font-family="Liberation Sans, sans-serif">Zero cross at 10453</text>
<text x="384.2" y="403.6" font-size="4.6" fill="#4848B0" textLength="68.7" lengthAdjust="spacingAndGlyphs" font-family="Liberation Sans, sans-serif">'na_neg' (negatively correlated)</text>
<text x="287.4" y="413.1" text-anchor="middle" font-size="5.2" font-weight="bold" fill="#606060" font-family="Liberation Sans, sans-serif">0</text>
<text x="311.8" y="413.1" text-anchor="middle" font-size="5.2" font-weight="bold" fill="#606060" font-family="Liberation Sans, sans-serif">2,500</text>
<text x="336.2" y="413.1" text-anchor="middle" font-size="5.2" font-weight="bold" fill="#606060" font-family="Liberation Sans, sans-serif">5,000</text>
<text x="360.6" y="413.1" text-anchor="middle" font-size="5.2" font-weight="bold" fill="#606060" font-family="Liberation Sans, sans-serif">7,500</text>
<text x="385.0" y="413.1" text-anchor="middle" font-size="5.2" font-weight="bold" fill="#606060" font-family="Liberation Sans, sans-serif">10,000</text>
<text x="409.4" y="413.1" text-anchor="middle" font-size="5.2" font-weight="bold" fill="#606060" font-family="Liberation Sans, sans-serif">12,500</text>
<text x="433.8" y="413.1" text-anchor="middle" font-size="5.2" font-weight="bold" fill="#606060" font-family="Liberation Sans, sans-serif">15,000</text>
<text x="458.2" y="413.1" text-anchor="middle" font-size="5.2" font-weight="bold" fill="#606060" font-family="Liberation Sans, sans-serif">17,500</text>
<text x="482.6" y="413.1" text-anchor="middle" font-size="5.2" font-weight="bold" fill="#606060" font-family="Liberation Sans, sans-serif">20,000</text>
<text x="352.7" y="419.9" font-size="7" font-weight="bold" fill="#222" textLength="62.8" lengthAdjust="spacingAndGlyphs" font-family="Liberation Sans, sans-serif">Rank in Ordered Dataset</text>
<path d="M286.80,242.00 C289.03,242.72 294.60,244.10 300.20,246.30 C305.80,248.50 313.67,251.83 320.40,255.20 C327.13,258.57 333.87,262.47 340.60,266.50 C347.33,270.53 354.07,274.88 360.80,279.40 C367.53,283.92 374.27,289.22 381.00,293.60 C387.73,297.98 395.15,302.33 401.20,305.70 C407.25,309.07 413.60,312.22 417.30,313.80 C421.00,315.38 420.70,315.10 423.40,315.20 C426.10,315.30 430.47,314.98 433.50,314.40 C436.53,313.82 438.23,313.15 441.60,311.70 C444.97,310.25 450.35,308.05 453.70,305.70 C457.05,303.35 459.35,301.30 461.70,297.60 C464.05,293.90 466.32,288.55 467.80,283.50 C469.28,278.45 469.78,274.22 470.60,267.30 C471.42,260.38 472.35,246.22 472.70,242.00" fill="none" stroke="#6DBE45" stroke-width="1.9" stroke-linejoin="round"/>
<rect x="294.3" y="423.8" width="158.2" height="8.5" fill="#fff" stroke="#333" stroke-width="0.6"/>
<line x1="295.9" y1="428.1" x2="302.4" y2="428.1" stroke="#6DBE45" stroke-width="1"/>
<text x="304.0" y="430.2" font-size="6.2" fill="#222" textLength="47.0" lengthAdjust="spacingAndGlyphs" font-family="Liberation Sans, sans-serif">Enrichment profile</text>
<line x1="354.3" y1="428.1" x2="360.8" y2="428.1" stroke="#444" stroke-width="0.8"/>
<text x="362.4" y="430.2" font-size="6.2" fill="#222" textLength="9.7" lengthAdjust="spacingAndGlyphs" font-family="Liberation Sans, sans-serif">Hits</text>
<line x1="385.0" y1="428.1" x2="391.3" y2="428.1" stroke="#ddd" stroke-width="0.8"/>
<text x="394.2" y="430.2" font-size="6.2" fill="#222" textLength="55.9" lengthAdjust="spacingAndGlyphs" font-family="Liberation Sans, sans-serif">Ranking metric scores</text>
<defs><filter id="bl0" x="-20%" y="-20%" width="140%" height="140%"><feGaussianBlur stdDeviation="0.45"/></filter><filter id="bl1" x="-50%" y="-50%" width="200%" height="200%"><feGaussianBlur stdDeviation="0.8"/></filter><filter id="bl2" x="-50%" y="-50%" width="200%" height="200%"><feGaussianBlur stdDeviation="2.5"/></filter></defs>
<text x="9.4" y="469.9" font-size="14.7" font-weight="bold" font-family="Liberation Sans, sans-serif">C</text>
<rect x="28.6" y="478.4" width="65.0" height="66.8" fill="#fff" stroke="#999" stroke-width="0.6"/>
<clipPath id="fc1"><rect x="28.6" y="478.4" width="65.0" height="66.8"/></clipPath>
<g clip-path="url(#fc1)">
<g filter="url(#bl0)">
<rect x="44" y="480" width="1" height="1" fill="#B0C8F0"/>
<rect x="46" y="486" width="2" height="1" fill="#B0C8F0"/>
<rect x="46" y="488" width="2" height="1" fill="#B0C8F0"/>
<rect x="50" y="488" width="1" height="1" fill="#B0C8F0"/>
<rect x="43" y="489" width="1" height="1" fill="#B0C8F0"/>
<rect x="45" y="490" width="1" height="1" fill="#84ACE6"/>
<rect x="48" y="490" width="1" height="1" fill="#B0C8F0"/>
<rect x="44" y="491" width="3" height="1" fill="#B0C8F0"/>
<rect x="48" y="491" width="1" height="1" fill="#84ACE6"/>
<rect x="44" y="492" width="1" height="1" fill="#B0C8F0"/>
<rect x="45" y="492" width="1" height="1" fill="#84ACE6"/>
<rect x="46" y="492" width="2" height="1" fill="#B0C8F0"/>
<rect x="45" y="493" width="1" height="1" fill="#84ACE6"/>
<rect x="47" y="493" width="1" height="1" fill="#B0C8F0"/>
<rect x="49" y="493" width="2" height="1" fill="#B0C8F0"/>
<rect x="44" y="494" width="1" height="1" fill="#B0C8F0"/>
<rect x="46" y="494" width="2" height="1" fill="#B0C8F0"/>
<rect x="49" y="494" width="1" height="1" fill="#B0C8F0"/>
<rect x="44" y="495" width="1" height="1" fill="#B0C8F0"/>
<rect x="50" y="495" width="1" height="1" fill="#B0C8F0"/>
<rect x="43" y="496" width="1" height="1" fill="#B0C8F0"/>
<rect x="46" y="496" width="1" height="1" fill="#84ACE6"/>
<rect x="49" y="496" width="1" height="1" fill="#84ACE6"/>
<rect x="40" y="497" width="2" height="1" fill="#B0C8F0"/>
<rect x="43" y="497" width="1" height="1" fill="#B0C8F0"/>
<rect x="44" y="497" width="1" height="1" fill="#84ACE6"/>
<rect x="45" y="497" width="2" height="1" fill="#B0C8F0"/>
<rect x="49" y="497" width="1" height="1" fill="#84ACE6"/>
<rect x="50" y="497" width="1" height="1" fill="#B0C8F0"/>
<rect x="43" y="498" width="2" height="1" fill="#84ACE6"/>
<rect x="45" y="498" width="2" height="1" fill="#B0C8F0"/>
<rect x="47" y="498" width="1" height="1" fill="#84ACE6"/>
<rect x="48" y="498" width="3" height="1" fill="#B0C8F0"/>
<rect x="51" y="498" width="1" height="1" fill="#84ACE6"/>
<rect x="39" y="499" width="1" height="1" fill="#B0C8F0"/>
<rect x="44" y="499" width="2" height="1" fill="#B0C8F0"/>
<rect x="46" y="499" width="1" height="1" fill="#84ACE6"/>
<rect x="47" y="499" width="2" height="1" fill="#B0C8F0"/>
<rect x="50" y="499" width="1" height="1" fill="#B0C8F0"/>
<rect x="37" y="500" width="1" height="1" fill="#B0C8F0"/>
<rect x="45" y="500" width="1" height="1" fill="#84ACE6"/>
<rect x="47" y="500" width="1" height="1" fill="#B0C8F0"/>
<rect x="49" y="500" width="1" height="1" fill="#84ACE6"/>
<rect x="50" y="500" width="1" height="1" fill="#B0C8F0"/>
<rect x="41" y="501" width="1" height="1" fill="#B0C8F0"/>
<rect x="44" y="501" width="1" height="1" fill="#84ACE6"/>
<rect x="45" y="501" width="1" height="1" fill="#B0C8F0"/>
<rect x="46" y="501" width="3" height="1" fill="#84ACE6"/>
<rect x="49" y="501" width="2" height="1" fill="#B0C8F0"/>
<rect x="41" y="502" width="2" height="1" fill="#B0C8F0"/>
<rect x="44" y="502" width="1" height="1" fill="#84ACE6"/>
<rect x="45" y="502" width="2" height="1" fill="#B0C8F0"/>
<rect x="48" y="502" width="1" height="1" fill="#84ACE6"/>
<rect x="49" y="502" width="1" height="1" fill="#B0C8F0"/>
<rect x="50" y="502" width="1" height="1" fill="#84ACE6"/>
<rect x="37" y="503" width="1" height="1" fill="#B0C8F0"/>
<rect x="40" y="503" width="1" height="1" fill="#B0C8F0"/>
<rect x="42" y="503" width="1" height="1" fill="#B0C8F0"/>
<rect x="44" y="503" width="2" height="1" fill="#84ACE6"/>
<rect x="47" y="503" width="1" height="1" fill="#60B4E0"/>
<rect x="51" y="503" width="1" height="1" fill="#84ACE6"/>
<rect x="53" y="503" width="1" height="1" fill="#B0C8F0"/>
<rect x="41" y="504" width="1" height="1" fill="#B0C8F0"/>
<rect x="42" y="504" width="1" height="1" fill="#84ACE6"/>
<rect x="44" y="504" width="4" height="1" fill="#84ACE6"/>
<rect x="48" y="504" width="3" height="1" fill="#B0C8F0"/>
<rect x="43" y="505" width="1" height="1" fill="#B0C8F0"/>
<rect x="45" y="505" width="2" height="1" fill="#B0C8F0"/>
<rect x="47" y="505" width="1" height="1" fill="#60B4E0"/>
<rect x="48" y="505" width="2" height="1" fill="#B0C8F0"/>
<rect x="39" y="506" width="1" height="1" fill="#B0C8F0"/>
<rect x="44" y="506" width="2" height="1" fill="#84ACE6"/>
<rect x="47" y="506" width="1" height="1" fill="#84ACE6"/>
<rect x="49" y="506" width="1" height="1" fill="#B0C8F0"/>
<rect x="34" y="507" width="2" height="1" fill="#B0C8F0"/>
<rect x="41" y="507" width="4" height="1" fill="#B0C8F0"/>
<rect x="45" y="507" width="2" height="1" fill="#84ACE6"/>
<rect x="47" y="507" width="1" height="1" fill="#B0C8F0"/>
<rect x="48" y="507" width="1" height="1" fill="#84ACE6"/>
<rect x="49" y="507" width="1" height="1" fill="#B0C8F0"/>
<rect x="50" y="507" width="1" height="1" fill="#84ACE6"/>
<rect x="51" y="507" width="1" height="1" fill="#B0C8F0"/>
<rect x="38" y="508" width="1" height="1" fill="#B0C8F0"/>
<rect x="41" y="508" width="1" height="1" fill="#B0C8F0"/>
<rect x="42" y="508" width="1" height="1" fill="#60B4E0"/>
<rect x="43" y="508" width="1" height="1" fill="#B0C8F0"/>
<rect x="45" y="508" width="3" height="1" fill="#B0C8F0"/>
<rect x="48" y="508" width="1" height="1" fill="#84ACE6"/>
<rect x="49" y="508" width="1" height="1" fill="#B0C8F0"/>
<rect x="53" y="508" width="1" height="1" fill="#B0C8F0"/>
<rect x="31" y="509" width="1" height="1" fill="#B0C8F0"/>
<rect x="37" y="509" width="3" height="1" fill="#B0C8F0"/>
<rect x="41" y="509" width="2" height="1" fill="#B0C8F0"/>
<rect x="44" y="509" width="1" height="1" fill="#B0C8F0"/>
<rect x="46" y="509" width="4" height="1" fill="#B0C8F0"/>
<rect x="53" y="509" width="1" height="1" fill="#B0C8F0"/>
<rect x="39" y="510" width="1" height="1" fill="#B0C8F0"/>
<rect x="40" y="510" width="1" height="1" fill="#60B4E0"/>
<rect x="42" y="510" width="1" height="1" fill="#B0C8F0"/>
<rect x="43" y="510" width="1" height="1" fill="#60B4E0"/>
<rect x="44" y="510" width="2" height="1" fill="#84ACE6"/>
<rect x="46" y="510" width="1" height="1" fill="#B0C8F0"/>
<rect x="48" y="510" width="1" height="1" fill="#B0C8F0"/>
<rect x="49" y="510" width="1" height="1" fill="#84ACE6"/>
<rect x="51" y="510" width="3" height="1" fill="#B0C8F0"/>
<rect x="38" y="511" width="1" height="1" fill="#B0C8F0"/>
<rect x="41" y="511" width="2" height="1" fill="#B0C8F0"/>
<rect x="43" y="511" width="2" height="1" fill="#84ACE6"/>
<rect x="45" y="511" width="2" height="1" fill="#60B4E0"/>
<rect x="48" y="511" width="2" height="1" fill="#84ACE6"/>
<rect x="52" y="511" width="1" height="1" fill="#B0C8F0"/>
<rect x="37" y="512" width="1" height="1" fill="#84ACE6"/>
<rect x="40" y="512" width="1" height="1" fill="#60B4E0"/>
<rect x="42" y="512" width="1" height="1" fill="#84ACE6"/>
<rect x="43" y="512" width="1" height="1" fill="#60B4E0"/>
<rect x="44" y="512" width="1" height="1" fill="#84ACE6"/>
<rect x="45" y="512" width="1" height="1" fill="#B0C8F0"/>
<rect x="46" y="512" width="1" height="1" fill="#84ACE6"/>
<rect x="47" y="512" width="1" height="1" fill="#60B4E0"/>
<rect x="48" y="512" width="2" height="1" fill="#84ACE6"/>
<rect x="39" y="513" width="2" height="1" fill="#B0C8F0"/>
<rect x="41" y="513" width="2" height="1" fill="#60B4E0"/>
<rect x="43" y="513" width="2" height="1" fill="#B0C8F0"/>
<rect x="45" y="513" width="1" height="1" fill="#48BCB0"/>
<rect x="46" y="513" width="2" height="1" fill="#84ACE6"/>
<rect x="48" y="513" width="2" height="1" fill="#B0C8F0"/>
<rect x="51" y="513" width="1" height="1" fill="#B0C8F0"/>
<rect x="38" y="514" width="2" height="1" fill="#84ACE6"/>
<rect x="40" y="514" width="2" height="1" fill="#60B4E0"/>
<rect x="42" y="514" width="1" height="1" fill="#48BCB0"/>
<rect x="44" y="514" width="1" height="1" fill="#60B4E0"/>
<rect x="45" y="514" width="1" height="1" fill="#84ACE6"/>
<rect x="46" y="514" width="1" height="1" fill="#60B4E0"/>
<rect x="48" y="514" width="1" height="1" fill="#84ACE6"/>
<rect x="51" y="514" width="1" height="1" fill="#B0C8F0"/>
<rect x="35" y="515" width="1" height="1" fill="#B0C8F0"/>
<rect x="38" y="515" width="1" height="1" fill="#84ACE6"/>
<rect x="41" y="515" width="1" height="1" fill="#60B4E0"/>
<rect x="42" y="515" width="1" height="1" fill="#84ACE6"/>
<rect x="43" y="515" width="2" height="1" fill="#48BCB0"/>
<rect x="45" y="515" width="2" height="1" fill="#60B4E0"/>
<rect x="47" y="515" width="3" height="1" fill="#84ACE6"/>
<rect x="51" y="515" width="1" height="1" fill="#84ACE6"/>
<rect x="35" y="516" width="1" height="1" fill="#B0C8F0"/>
<rect x="37" y="516" width="1" height="1" fill="#B0C8F0"/>
<rect x="38" y="516" width="1" height="1" fill="#84ACE6"/>
<rect x="39" y="516" width="1" height="1" fill="#60B4E0"/>
<rect x="40" y="516" width="1" height="1" fill="#48BCB0"/>
<rect x="41" y="516" width="1" height="1" fill="#60B4E0"/>
<rect x="42" y="516" width="1" height="1" fill="#48BCB0"/>
<rect x="43" y="516" width="2" height="1" fill="#60B4E0"/>
<rect x="45" y="516" width="1" height="1" fill="#48BCB0"/>
<rect x="46" y="516" width="1" height="1" fill="#60B4E0"/>
<rect x="47" y="516" width="3" height="1" fill="#84ACE6"/>
<rect x="50" y="516" width="3" height="1" fill="#B0C8F0"/>
<rect x="35" y="517" width="1" height="1" fill="#B0C8F0"/>
<rect x="36" y="517" width="1" height="1" fill="#84ACE6"/>
<rect x="37" y="517" width="3" height="1" fill="#60B4E0"/>
<rect x="40" y="517" width="6" height="1" fill="#48BCB0"/>
<rect x="46" y="517" width="1" height="1" fill="#60B4E0"/>
<rect x="47" y="517" width="1" height="1" fill="#84ACE6"/>
<rect x="48" y="517" width="2" height="1" fill="#60B4E0"/>
<rect x="50" y="517" width="1" height="1" fill="#84ACE6"/>
<rect x="51" y="517" width="1" height="1" fill="#B0C8F0"/>
<rect x="35" y="518" width="2" height="1" fill="#B0C8F0"/>
<rect x="37" y="518" width="2" height="1" fill="#84ACE6"/>
<rect x="39" y="518" width="3" height="1" fill="#48BCB0"/>
<rect x="42" y="518" width="1" height="1" fill="#60C458"/>
<rect x="43" y="518" width="1" height="1" fill="#48BCB0"/>
<rect x="44" y="518" width="1" height="1" fill="#60C458"/>
<rect x="45" y="518" width="1" height="1" fill="#60B4E0"/>
<rect x="46" y="518" width="1" height="1" fill="#60C458"/>
<rect x="47" y="518" width="3" height="1" fill="#60B4E0"/>
<rect x="50" y="518" width="1" height="1" fill="#84ACE6"/>
<rect x="53" y="518" width="2" height="1" fill="#B0C8F0"/>
<rect x="31" y="519" width="1" height="1" fill="#B0C8F0"/>
<rect x="34" y="519" width="1" height="1" fill="#84ACE6"/>
<rect x="36" y="519" width="1" height="1" fill="#B0C8F0"/>
<rect x="37" y="519" width="1" height="1" fill="#60B4E0"/>
<rect x="38" y="519" width="1" height="1" fill="#84ACE6"/>
<rect x="39" y="519" width="1" height="1" fill="#60B4E0"/>
<rect x="40" y="519" width="2" height="1" fill="#48BCB0"/>
<rect x="42" y="519" width="1" height="1" fill="#60C458"/>
<rect x="43" y="519" width="1" height="1" fill="#48BCB0"/>
<rect x="44" y="519" width="1" height="1" fill="#B4D640"/>
<rect x="45" y="519" width="2" height="1" fill="#48BCB0"/>
<rect x="47" y="519" width="1" height="1" fill="#60B4E0"/>
<rect x="48" y="519" width="1" height="1" fill="#48BCB0"/>
<rect x="49" y="519" width="2" height="1" fill="#84ACE6"/>
<rect x="52" y="519" width="1" height="1" fill="#B0C8F0"/>
<rect x="35" y="520" width="1" height="1" fill="#84ACE6"/>
<rect x="36" y="520" width="1" height="1" fill="#B0C8F0"/>
<rect x="37" y="520" width="1" height="1" fill="#84ACE6"/>
<rect x="38" y="520" width="2" height="1" fill="#60B4E0"/>
<rect x="40" y="520" width="3" height="1" fill="#60C458"/>
<rect x="43" y="520" width="2" height="1" fill="#B4D640"/>
<rect x="45" y="520" width="1" height="1" fill="#60C458"/>
<rect x="46" y="520" width="2" height="1" fill="#48BCB0"/>
<rect x="48" y="520" width="2" height="1" fill="#60B4E0"/>
<rect x="51" y="520" width="1" height="1" fill="#B0C8F0"/>
<rect x="52" y="520" width="1" height="1" fill="#84ACE6"/>
<rect x="53" y="520" width="1" height="1" fill="#B0C8F0"/>
<rect x="34" y="521" width="2" height="1" fill="#B0C8F0"/>
<rect x="36" y="521" width="1" height="1" fill="#60B4E0"/>
<rect x="37" y="521" width="1" height="1" fill="#48BCB0"/>
<rect x="38" y="521" width="2" height="1" fill="#60B4E0"/>
<rect x="40" y="521" width="2" height="1" fill="#60C458"/>
<rect x="42" y="521" width="2" height="1" fill="#B4D640"/>
<rect x="44" y="521" width="1" height="1" fill="#60C458"/>
<rect x="45" y="521" width="1" height="1" fill="#B4D640"/>
<rect x="46" y="521" width="2" height="1" fill="#60C458"/>
<rect x="48" y="521" width="1" height="1" fill="#48BCB0"/>
<rect x="49" y="521" width="1" height="1" fill="#60B4E0"/>
<rect x="50" y="521" width="2" height="1" fill="#84ACE6"/>
<rect x="54" y="521" width="2" height="1" fill="#B0C8F0"/>
<rect x="33" y="522" width="2" height="1" fill="#B0C8F0"/>
<rect x="35" y="522" width="3" height="1" fill="#84ACE6"/>
<rect x="38" y="522" width="1" height="1" fill="#60B4E0"/>
<rect x="39" y="522" width="1" height="1" fill="#48BCB0"/>
<rect x="40" y="522" width="1" height="1" fill="#60C458"/>
<rect x="41" y="522" width="1" height="1" fill="#B4D640"/>
<rect x="42" y="522" width="1" height="1" fill="#60C458"/>
<rect x="43" y="522" width="1" height="1" fill="#B4D640"/>
<rect x="44" y="522" width="1" height="1" fill="#E4E448"/>
<rect x="45" y="522" width="3" height="1" fill="#60C458"/>
<rect x="48" y="522" width="1" height="1" fill="#60B4E0"/>
<rect x="49" y="522" width="1" height="1" fill="#B0C8F0"/>
<rect x="50" y="522" width="1" height="1" fill="#60B4E0"/>
<rect x="51" y="522" width="1" height="1" fill="#84ACE6"/>
<rect x="52" y="522" width="1" height="1" fill="#B0C8F0"/>
<rect x="34" y="523" width="1" height="1" fill="#84ACE6"/>
<rect x="35" y="523" width="1" height="1" fill="#60B4E0"/>
<rect x="36" y="523" width="1" height="1" fill="#B0C8F0"/>
<rect x="37" y="523" width="2" height="1" fill="#60B4E0"/>
<rect x="39" y="523" width="1" height="1" fill="#48BCB0"/>
<rect x="40" y="523" width="1" height="1" fill="#60C458"/>
<rect x="41" y="523" width="3" height="1" fill="#B4D640"/>
<rect x="44" y="523" width="1" height="1" fill="#E4E448"/>
<rect x="45" y="523" width="2" height="1" fill="#60C458"/>
<rect x="47" y="523" width="2" height="1" fill="#48BCB0"/>
<rect x="49" y="523" width="1" height="1" fill="#84ACE6"/>
<rect x="50" y="523" width="1" height="1" fill="#B0C8F0"/>
<rect x="52" y="523" width="1" height="1" fill="#B0C8F0"/>
<rect x="34" y="524" width="2" height="1" fill="#B0C8F0"/>
<rect x="36" y="524" width="1" height="1" fill="#84ACE6"/>
<rect x="37" y="524" width="2" height="1" fill="#60B4E0"/>
<rect x="39" y="524" width="2" height="1" fill="#60C458"/>
<rect x="41" y="524" width="1" height="1" fill="#B4D640"/>
<rect x="42" y="524" width="1" height="1" fill="#60C458"/>
<rect x="43" y="524" width="1" height="1" fill="#E4E448"/>
<rect x="44" y="524" width="3" height="1" fill="#B4D640"/>
<rect x="47" y="524" width="2" height="1" fill="#48BCB0"/>
<rect x="49" y="524" width="1" height="1" fill="#60B4E0"/>
<rect x="50" y="524" width="1" height="1" fill="#84ACE6"/>
<rect x="51" y="524" width="1" height="1" fill="#B0C8F0"/>
<rect x="53" y="524" width="2" height="1" fill="#B0C8F0"/>
<rect x="34" y="525" width="2" height="1" fill="#B0C8F0"/>
<rect x="36" y="525" width="2" height="1" fill="#84ACE6"/>
<rect x="38" y="525" width="1" height="1" fill="#60B4E0"/>
<rect x="39" y="525" width="3" height="1" fill="#60C458"/>
<rect x="42" y="525" width="3" height="1" fill="#B4D640"/>
<rect x="45" y="525" width="3" height="1" fill="#60C458"/>
<rect x="48" y="525" width="1" height="1" fill="#60B4E0"/>
<rect x="49" y="525" width="1" height="1" fill="#48BCB0"/>
<rect x="50" y="525" width="1" height="1" fill="#84ACE6"/>
<rect x="51" y="525" width="2" height="1" fill="#B0C8F0"/>
<rect x="54" y="525" width="1" height="1" fill="#B0C8F0"/>
<rect x="34" y="526" width="2" height="1" fill="#B0C8F0"/>
<rect x="36" y="526" width="3" height="1" fill="#60B4E0"/>
<rect x="39" y="526" width="3" height="1" fill="#60C458"/>
<rect x="42" y="526" width="2" height="1" fill="#B4D640"/>
<rect x="44" y="526" width="1" height="1" fill="#60C458"/>
<rect x="45" y="526" width="1" height="1" fill="#B4D640"/>
<rect x="46" y="526" width="1" height="1" fill="#60C458"/>
<rect x="47" y="526" width="1" height="1" fill="#48BCB0"/>
<rect x="48" y="526" width="1" height="1" fill="#60B4E0"/>
<rect x="49" y="526" width="1" height="1" fill="#48BCB0"/>
<rect x="50" y="526" width="1" height="1" fill="#84ACE6"/>
<rect x="51" y="526" width="1" height="1" fill="#60B4E0"/>
<rect x="34" y="527" width="2" height="1" fill="#B0C8F0"/>
<rect x="36" y="527" width="2" height="1" fill="#84ACE6"/>
<rect x="38" y="527" width="3" height="1" fill="#48BCB0"/>
<rect x="41" y="527" width="1" height="1" fill="#60C458"/>
<rect x="42" y="527" width="1" height="1" fill="#E4E448"/>
<rect x="43" y="527" width="1" height="1" fill="#B4D640"/>
<rect x="44" y="527" width="2" height="1" fill="#60C458"/>
<rect x="46" y="527" width="1" height="1" fill="#48BCB0"/>
<rect x="47" y="527" width="1" height="1" fill="#60C458"/>
<rect x="48" y="527" width="2" height="1" fill="#48BCB0"/>
<rect x="50" y="527" width="2" height="1" fill="#84ACE6"/>
<rect x="54" y="527" width="1" height="1" fill="#B0C8F0"/>
<rect x="33" y="528" width="1" height="1" fill="#B0C8F0"/>
<rect x="34" y="528" width="1" height="1" fill="#84ACE6"/>
<rect x="37" y="528" width="2" height="1" fill="#60B4E0"/>
<rect x="39" y="528" width="1" height="1" fill="#48BCB0"/>
<rect x="40" y="528" width="3" height="1" fill="#60C458"/>
<rect x="43" y="528" width="1" height="1" fill="#B4D640"/>
<rect x="44" y="528" width="4" height="1" fill="#60C458"/>
<rect x="48" y="528" width="2" height="1" fill="#48BCB0"/>
<rect x="50" y="528" width="1" height="1" fill="#84ACE6"/>
<rect x="51" y="528" width="1" height="1" fill="#B0C8F0"/>
<rect x="34" y="529" width="1" height="1" fill="#84ACE6"/>
<rect x="36" y="529" width="1" height="1" fill="#60B4E0"/>
<rect x="37" y="529" width="5" height="1" fill="#48BCB0"/>
<rect x="42" y="529" width="2" height="1" fill="#60C458"/>
<rect x="44" y="529" width="1" height="1" fill="#B4D640"/>
<rect x="45" y="529" width="2" height="1" fill="#60C458"/>
<rect x="47" y="529" width="1" height="1" fill="#48BCB0"/>
<rect x="48" y="529" width="1" height="1" fill="#60B4E0"/>
<rect x="49" y="529" width="1" height="1" fill="#48BCB0"/>
<rect x="50" y="529" width="1" height="1" fill="#60B4E0"/>
<rect x="52" y="529" width="1" height="1" fill="#84ACE6"/>
<rect x="30" y="530" width="1" height="1" fill="#B0C8F0"/>
<rect x="33" y="530" width="1" height="1" fill="#84ACE6"/>
<rect x="34" y="530" width="1" height="1" fill="#B0C8F0"/>
<rect x="36" y="530" width="2" height="1" fill="#84ACE6"/>
<rect x="38" y="530" width="1" height="1" fill="#60B4E0"/>
<rect x="39" y="530" width="1" height="1" fill="#48BCB0"/>
<rect x="40" y="530" width="2" height="1" fill="#60C458"/>
<rect x="42" y="530" width="4" height="1" fill="#48BCB0"/>
<rect x="46" y="530" width="1" height="1" fill="#60C458"/>
<rect x="47" y="530" width="1" height="1" fill="#60B4E0"/>
<rect x="48" y="530" width="1" height="1" fill="#48BCB0"/>
<rect x="49" y="530" width="1" height="1" fill="#60B4E0"/>
<rect x="51" y="530" width="2" height="1" fill="#84ACE6"/>
<rect x="54" y="530" width="1" height="1" fill="#B0C8F0"/>
<rect x="36" y="531" width="1" height="1" fill="#B0C8F0"/>
<rect x="37" y="531" width="1" height="1" fill="#60B4E0"/>
<rect x="38" y="531" width="3" height="1" fill="#48BCB0"/>
<rect x="41" y="531" width="2" height="1" fill="#60C458"/>
<rect x="43" y="531" width="1" height="1" fill="#48BCB0"/>
<rect x="44" y="531" width="2" height="1" fill="#60C458"/>
<rect x="46" y="531" width="2" height="1" fill="#48BCB0"/>
<rect x="48" y="531" width="2" height="1" fill="#60B4E0"/>
<rect x="50" y="531" width="1" height="1" fill="#84ACE6"/>
<rect x="51" y="531" width="1" height="1" fill="#60B4E0"/>
<rect x="53" y="531" width="1" height="1" fill="#B0C8F0"/>
<rect x="55" y="531" width="1" height="1" fill="#84ACE6"/>
<rect x="33" y="532" width="1" height="1" fill="#B0C8F0"/>
<rect x="35" y="532" width="1" height="1" fill="#B0C8F0"/>
<rect x="36" y="532" width="1" height="1" fill="#84ACE6"/>
<rect x="37" y="532" width="2" height="1" fill="#60B4E0"/>
<rect x="39" y="532" width="2" height="1" fill="#48BCB0"/>
<rect x="41" y="532" width="1" height="1" fill="#84ACE6"/>
<rect x="42" y="532" width="1" height="1" fill="#60B4E0"/>
<rect x="43" y="532" width="2" height="1" fill="#48BCB0"/>
<rect x="45" y="532" width="1" height="1" fill="#60B4E0"/>
<rect x="46" y="532" width="2" height="1" fill="#48BCB0"/>
<rect x="48" y="532" width="2" height="1" fill="#60B4E0"/>
<rect x="50" y="532" width="1" height="1" fill="#84ACE6"/>
<rect x="52" y="532" width="1" height="1" fill="#84ACE6"/>
<rect x="54" y="532" width="1" height="1" fill="#B0C8F0"/>
<rect x="36" y="533" width="1" height="1" fill="#B0C8F0"/>
<rect x="37" y="533" width="2" height="1" fill="#84ACE6"/>
<rect x="39" y="533" width="1" height="1" fill="#48BCB0"/>
<rect x="40" y="533" width="2" height="1" fill="#60B4E0"/>
<rect x="42" y="533" width="1" height="1" fill="#48BCB0"/>
<rect x="43" y="533" width="1" height="1" fill="#60B4E0"/>
<rect x="44" y="533" width="1" height="1" fill="#48BCB0"/>
<rect x="45" y="533" width="1" height="1" fill="#60B4E0"/>
<rect x="46" y="533" width="1" height="1" fill="#48BCB0"/>
<rect x="47" y="533" width="2" height="1" fill="#60B4E0"/>
<rect x="49" y="533" width="1" height="1" fill="#B0C8F0"/>
<rect x="50" y="533" width="1" height="1" fill="#84ACE6"/>
<rect x="51" y="533" width="2" height="1" fill="#B0C8F0"/>
<rect x="53" y="533" width="1" height="1" fill="#84ACE6"/>
<rect x="34" y="534" width="1" height="1" fill="#B0C8F0"/>
<rect x="36" y="534" width="1" height="1" fill="#84ACE6"/>
<rect x="37" y="534" width="1" height="1" fill="#B0C8F0"/>
<rect x="38" y="534" width="1" height="1" fill="#84ACE6"/>
<rect x="39" y="534" width="2" height="1" fill="#60B4E0"/>
<rect x="41" y="534" width="2" height="1" fill="#48BCB0"/>
<rect x="43" y="534" width="1" height="1" fill="#60C458"/>
<rect x="44" y="534" width="1" height="1" fill="#48BCB0"/>
<rect x="45" y="534" width="5" height="1" fill="#60B4E0"/>
<rect x="50" y="534" width="1" height="1" fill="#B0C8F0"/>
<rect x="51" y="534" width="1" height="1" fill="#60B4E0"/>
<rect x="52" y="534" width="1" height="1" fill="#B0C8F0"/>
<rect x="34" y="535" width="2" height="1" fill="#B0C8F0"/>
<rect x="37" y="535" width="1" height="1" fill="#84ACE6"/>
<rect x="38" y="535" width="3" height="1" fill="#60B4E0"/>
<rect x="41" y="535" width="1" height="1" fill="#84ACE6"/>
<rect x="42" y="535" width="1" height="1" fill="#60B4E0"/>
<rect x="43" y="535" width="2" height="1" fill="#48BCB0"/>
<rect x="45" y="535" width="2" height="1" fill="#60B4E0"/>
<rect x="47" y="535" width="1" height="1" fill="#84ACE6"/>
<rect x="48" y="535" width="1" height="1" fill="#60B4E0"/>
<rect x="49" y="535" width="1" height="1" fill="#84ACE6"/>
<rect x="51" y="535" width="1" height="1" fill="#84ACE6"/>
<rect x="53" y="535" width="1" height="1" fill="#B0C8F0"/>
<rect x="31" y="536" width="3" height="1" fill="#B0C8F0"/>
<rect x="34" y="536" width="1" height="1" fill="#84ACE6"/>
<rect x="37" y="536" width="2" height="1" fill="#84ACE6"/>
<rect x="39" y="536" width="1" height="1" fill="#60B4E0"/>
<rect x="40" y="536" width="1" height="1" fill="#48BCB0"/>
<rect x="41" y="536" width="2" height="1" fill="#60B4E0"/>
<rect x="43" y="536" width="1" height="1" fill="#84ACE6"/>
<rect x="44" y="536" width="3" height="1" fill="#48BCB0"/>
<rect x="47" y="536" width="1" height="1" fill="#84ACE6"/>
<rect x="48" y="536" width="2" height="1" fill="#60B4E0"/>
<rect x="50" y="536" width="1" height="1" fill="#84ACE6"/>
<rect x="33" y="537" width="2" height="1" fill="#B0C8F0"/>
<rect x="36" y="537" width="3" height="1" fill="#84ACE6"/>
<rect x="39" y="537" width="1" height="1" fill="#B0C8F0"/>
<rect x="40" y="537" width="1" height="1" fill="#84ACE6"/>
<rect x="41" y="537" width="2" height="1" fill="#60B4E0"/>
<rect x="43" y="537" width="1" height="1" fill="#48BCB0"/>
<rect x="44" y="537" width="2" height="1" fill="#60B4E0"/>
<rect x="46" y="537" width="1" height="1" fill="#48BCB0"/>
<rect x="47" y="537" width="1" height="1" fill="#60B4E0"/>
<rect x="48" y="537" width="3" height="1" fill="#84ACE6"/>
<rect x="51" y="537" width="2" height="1" fill="#B0C8F0"/>
<rect x="55" y="537" width="1" height="1" fill="#B0C8F0"/>
<rect x="59" y="537" width="1" height="1" fill="#B0C8F0"/>
<rect x="32" y="538" width="1" height="1" fill="#84ACE6"/>
<rect x="35" y="538" width="1" height="1" fill="#B0C8F0"/>
<rect x="36" y="538" width="1" height="1" fill="#60B4E0"/>
<rect x="37" y="538" width="1" height="1" fill="#B0C8F0"/>
<rect x="38" y="538" width="1" height="1" fill="#84ACE6"/>
<rect x="40" y="538" width="5" height="1" fill="#60B4E0"/>
<rect x="45" y="538" width="1" height="1" fill="#48BCB0"/>
<rect x="46" y="538" width="1" height="1" fill="#60B4E0"/>
<rect x="47" y="538" width="1" height="1" fill="#84ACE6"/>
<rect x="49" y="538" width="1" height="1" fill="#84ACE6"/>
<rect x="51" y="538" width="2" height="1" fill="#B0C8F0"/>
<rect x="36" y="539" width="1" height="1" fill="#B0C8F0"/>
<rect x="37" y="539" width="1" height="1" fill="#60B4E0"/>
<rect x="38" y="539" width="1" height="1" fill="#B0C8F0"/>
<rect x="39" y="539" width="2" height="1" fill="#60B4E0"/>
<rect x="42" y="539" width="1" height="1" fill="#B0C8F0"/>
<rect x="43" y="539" width="3" height="1" fill="#60B4E0"/>
<rect x="46" y="539" width="2" height="1" fill="#84ACE6"/>
<rect x="48" y="539" width="1" height="1" fill="#B0C8F0"/>
<rect x="50" y="539" width="1" height="1" fill="#B0C8F0"/>
<rect x="52" y="539" width="1" height="1" fill="#84ACE6"/>
<rect x="53" y="539" width="1" height="1" fill="#B0C8F0"/>
<rect x="55" y="539" width="1" height="1" fill="#B0C8F0"/>
<rect x="34" y="540" width="1" height="1" fill="#B0C8F0"/>
<rect x="35" y="540" width="1" height="1" fill="#84ACE6"/>
<rect x="37" y="540" width="3" height="1" fill="#84ACE6"/>
<rect x="40" y="540" width="2" height="1" fill="#60B4E0"/>
<rect x="42" y="540" width="1" height="1" fill="#48BCB0"/>
<rect x="43" y="540" width="1" height="1" fill="#84ACE6"/>
<rect x="44" y="540" width="1" height="1" fill="#B0C8F0"/>
<rect x="45" y="540" width="2" height="1" fill="#60B4E0"/>
<rect x="48" y="540" width="1" height="1" fill="#B0C8F0"/>
<rect x="49" y="540" width="1" height="1" fill="#84ACE6"/>
<rect x="51" y="540" width="1" height="1" fill="#B0C8F0"/>
<rect x="53" y="540" width="1" height="1" fill="#B0C8F0"/>
<rect x="31" y="541" width="1" height="1" fill="#B0C8F0"/>
<rect x="33" y="541" width="2" height="1" fill="#B0C8F0"/>
<rect x="36" y="541" width="1" height="1" fill="#60B4E0"/>
<rect x="37" y="541" width="2" height="1" fill="#84ACE6"/>
<rect x="39" y="541" width="1" height="1" fill="#60B4E0"/>
<rect x="40" y="541" width="2" height="1" fill="#84ACE6"/>
<rect x="42" y="541" width="4" height="1" fill="#60B4E0"/>
<rect x="46" y="541" width="1" height="1" fill="#84ACE6"/>
<rect x="47" y="541" width="1" height="1" fill="#B0C8F0"/>
<rect x="48" y="541" width="1" height="1" fill="#84ACE6"/>
<rect x="50" y="541" width="1" height="1" fill="#B0C8F0"/>
<rect x="51" y="541" width="1" height="1" fill="#84ACE6"/>
<rect x="54" y="541" width="1" height="1" fill="#B0C8F0"/>
<rect x="32" y="542" width="1" height="1" fill="#B0C8F0"/>
<rect x="34" y="542" width="1" height="1" fill="#B0C8F0"/>
<rect x="36" y="542" width="2" height="1" fill="#B0C8F0"/>
<rect x="38" y="542" width="2" height="1" fill="#84ACE6"/>
<rect x="40" y="542" width="3" height="1" fill="#60B4E0"/>
<rect x="43" y="542" width="2" height="1" fill="#48BCB0"/>
<rect x="45" y="542" width="1" height="1" fill="#84ACE6"/>
<rect x="46" y="542" width="1" height="1" fill="#48BCB0"/>
<rect x="47" y="542" width="1" height="1" fill="#60B4E0"/>
<rect x="48" y="542" width="1" height="1" fill="#B0C8F0"/>
<rect x="49" y="542" width="2" height="1" fill="#84ACE6"/>
<rect x="51" y="542" width="1" height="1" fill="#B0C8F0"/>
<rect x="52" y="542" width="1" height="1" fill="#84ACE6"/>
<rect x="53" y="542" width="2" height="1" fill="#B0C8F0"/>
<rect x="58" y="542" width="1" height="1" fill="#B0C8F0"/>
<rect x="32" y="543" width="1" height="1" fill="#B0C8F0"/>
<rect x="34" y="543" width="1" height="1" fill="#84ACE6"/>
<rect x="38" y="543" width="3" height="1" fill="#60B4E0"/>
<rect x="41" y="543" width="1" height="1" fill="#B0C8F0"/>
<rect x="42" y="543" width="1" height="1" fill="#84ACE6"/>
<rect x="43" y="543" width="3" height="1" fill="#60B4E0"/>
<rect x="46" y="543" width="2" height="1" fill="#84ACE6"/>
<rect x="49" y="543" width="1" height="1" fill="#B0C8F0"/>
<rect x="50" y="543" width="1" height="1" fill="#84ACE6"/>
<rect x="53" y="543" width="1" height="1" fill="#B0C8F0"/>
</g>
<ellipse cx="60.8" cy="496.5" rx="1.6" ry="1.4" fill="#98B8EC" opacity="0.75" filter="url(#bl1)"/>
</g>
<line x1="56.5" y1="478.4" x2="56.5" y2="545.2" stroke="#B86098" stroke-width="0.8"/>
<line x1="28.6" y1="503.0" x2="93.6" y2="503.0" stroke="#C878B0" stroke-width="0.8"/>
<line x1="28.6" y1="516.2" x2="93.6" y2="516.2" stroke="#C878B0" stroke-width="0.8"/>
<path d="M28.6,478.4 V545.2 H93.6" fill="none" stroke="#000" stroke-width="1.1"/>
<line x1="27.1" y1="485.0" x2="28.6" y2="485.0" stroke="#000" stroke-width="0.7"/>
<text x="26.6" y="486.6" text-anchor="end" font-size="3.9" font-weight="bold" fill="#111" font-family="Liberation Sans, sans-serif">10<tspan font-size="2.8" dy="-1.4">5</tspan></text>
<line x1="27.1" y1="499.3" x2="28.6" y2="499.3" stroke="#000" stroke-width="0.7"/>
<text x="26.6" y="500.9" text-anchor="end" font-size="3.9" font-weight="bold" fill="#111" font-family="Liberation Sans, sans-serif">10<tspan font-size="2.8" dy="-1.4">4</tspan></text>
<line x1="27.1" y1="515.3" x2="28.6" y2="515.3" stroke="#000" stroke-width="0.7"/>
<text x="26.6" y="516.9" text-anchor="end" font-size="3.9" font-weight="bold" fill="#111" font-family="Liberation Sans, sans-serif">10<tspan font-size="2.8" dy="-1.4">3</tspan></text>
<line x1="27.1" y1="529.6" x2="28.6" y2="529.6" stroke="#000" stroke-width="0.7"/>
<text x="26.6" y="531.2" text-anchor="end" font-size="3.9" font-weight="bold" fill="#111" font-family="Liberation Sans, sans-serif">10<tspan font-size="2.8" dy="-1.4">2</tspan></text>
<line x1="27.1" y1="538.1" x2="28.6" y2="538.1" stroke="#000" stroke-width="0.7"/>
<text x="26.6" y="539.7" text-anchor="end" font-size="3.9" font-weight="bold" fill="#111" font-family="Liberation Sans, sans-serif">0</text>
<line x1="35.4" y1="545.2" x2="35.4" y2="546.7" stroke="#000" stroke-width="0.7"/>
<text x="35.4" y="551.8" text-anchor="middle" font-size="3.9" font-weight="bold" fill="#111" font-family="Liberation Sans, sans-serif">0</text>
<line x1="42.3" y1="545.2" x2="42.3" y2="546.7" stroke="#000" stroke-width="0.7"/>
<text x="43.1" y="551.8" text-anchor="middle" font-size="3.9" font-weight="bold" fill="#111" font-family="Liberation Sans, sans-serif">10<tspan font-size="2.8" dy="-1.4">2</tspan></text>
<line x1="57.7" y1="545.2" x2="57.7" y2="546.7" stroke="#000" stroke-width="0.7"/>
<text x="58.5" y="551.8" text-anchor="middle" font-size="3.9" font-weight="bold" fill="#111" font-family="Liberation Sans, sans-serif">10<tspan font-size="2.8" dy="-1.4">3</tspan></text>
<line x1="73.0" y1="545.2" x2="73.0" y2="546.7" stroke="#000" stroke-width="0.7"/>
<text x="73.8" y="551.8" text-anchor="middle" font-size="3.9" font-weight="bold" fill="#111" font-family="Liberation Sans, sans-serif">10<tspan font-size="2.8" dy="-1.4">4</tspan></text>
<line x1="87.7" y1="545.2" x2="87.7" y2="546.7" stroke="#000" stroke-width="0.7"/>
<text x="88.5" y="551.8" text-anchor="middle" font-size="3.9" font-weight="bold" fill="#111" font-family="Liberation Sans, sans-serif">10<tspan font-size="2.8" dy="-1.4">5</tspan></text>
<text x="78.0" y="494.7" font-size="11.5" fill="#333" stroke="#333" stroke-width="0.3" textLength="12.8" lengthAdjust="spacingAndGlyphs" font-family="Liberation Sans, sans-serif">++</text>
<text x="87.9" y="512.9" text-anchor="middle" font-size="11.5" fill="#333" stroke="#333" stroke-width="0.3" font-family="Liberation Sans, sans-serif">+</text>
<text x="89.2" y="529.2" text-anchor="middle" font-size="11.5" fill="#333" stroke="#333" stroke-width="0.3" font-family="Liberation Sans, sans-serif">-</text>
<text x="30.9" y="564.7" font-size="8.9" font-weight="bold" fill="#111" textLength="21.9" lengthAdjust="spacingAndGlyphs" font-family="Liberation Sans, sans-serif">IL18R</text>
<line x1="61.3" y1="565.4" x2="78.4" y2="565.4" stroke="#111" stroke-width="1.3"/>
<path d="M81.4,565.4 L76.4,562.8 L76.4,568.0 Z" fill="#111"/>
<rect x="34.0" y="571.6" width="63.6" height="66.0" fill="#fff" stroke="#999" stroke-width="0.6"/>
<clipPath id="fc2"><rect x="34.0" y="571.6" width="63.6" height="66.0"/></clipPath>
<g clip-path="url(#fc2)">
<g filter="url(#bl0)">
<rect x="51" y="581" width="1" height="1" fill="#B0C8F0"/>
<rect x="50" y="583" width="1" height="1" fill="#B0C8F0"/>
<rect x="54" y="583" width="1" height="1" fill="#B0C8F0"/>
<rect x="51" y="584" width="2" height="1" fill="#B0C8F0"/>
<rect x="53" y="584" width="1" height="1" fill="#84ACE6"/>
<rect x="57" y="584" width="1" height="1" fill="#B0C8F0"/>
<rect x="51" y="585" width="1" height="1" fill="#B0C8F0"/>
<rect x="54" y="585" width="1" height="1" fill="#B0C8F0"/>
<rect x="52" y="586" width="1" height="1" fill="#84ACE6"/>
<rect x="54" y="586" width="1" height="1" fill="#B0C8F0"/>
<rect x="58" y="586" width="1" height="1" fill="#B0C8F0"/>
<rect x="49" y="587" width="1" height="1" fill="#B0C8F0"/>
<rect x="51" y="587" width="1" height="1" fill="#B0C8F0"/>
<rect x="56" y="587" width="1" height="1" fill="#84ACE6"/>
<rect x="51" y="588" width="1" height="1" fill="#B0C8F0"/>
<rect x="52" y="588" width="1" height="1" fill="#84ACE6"/>
<rect x="53" y="588" width="1" height="1" fill="#B0C8F0"/>
<rect x="55" y="588" width="4" height="1" fill="#B0C8F0"/>
<rect x="50" y="589" width="1" height="1" fill="#84ACE6"/>
<rect x="52" y="589" width="1" height="1" fill="#84ACE6"/>
<rect x="53" y="589" width="1" height="1" fill="#B0C8F0"/>
<rect x="55" y="589" width="2" height="1" fill="#B0C8F0"/>
<rect x="48" y="590" width="1" height="1" fill="#B0C8F0"/>
<rect x="50" y="590" width="1" height="1" fill="#B0C8F0"/>
<rect x="51" y="590" width="1" height="1" fill="#84ACE6"/>
<rect x="54" y="590" width="1" height="1" fill="#B0C8F0"/>
<rect x="55" y="590" width="1" height="1" fill="#84ACE6"/>
<rect x="57" y="590" width="1" height="1" fill="#84ACE6"/>
<rect x="49" y="591" width="1" height="1" fill="#B0C8F0"/>
<rect x="54" y="591" width="1" height="1" fill="#B0C8F0"/>
<rect x="55" y="591" width="1" height="1" fill="#84ACE6"/>
<rect x="58" y="591" width="2" height="1" fill="#B0C8F0"/>
<rect x="48" y="592" width="1" height="1" fill="#B0C8F0"/>
<rect x="50" y="592" width="1" height="1" fill="#84ACE6"/>
<rect x="52" y="592" width="1" height="1" fill="#84ACE6"/>
<rect x="53" y="592" width="1" height="1" fill="#B0C8F0"/>
<rect x="55" y="592" width="2" height="1" fill="#84ACE6"/>
<rect x="59" y="592" width="1" height="1" fill="#B0C8F0"/>
<rect x="47" y="593" width="1" height="1" fill="#B0C8F0"/>
<rect x="52" y="593" width="1" height="1" fill="#B0C8F0"/>
<rect x="53" y="593" width="1" height="1" fill="#84ACE6"/>
<rect x="57" y="593" width="1" height="1" fill="#B0C8F0"/>
<rect x="60" y="593" width="1" height="1" fill="#B0C8F0"/>
<rect x="51" y="594" width="1" height="1" fill="#B0C8F0"/>
<rect x="52" y="594" width="1" height="1" fill="#60B4E0"/>
<rect x="53" y="594" width="2" height="1" fill="#84ACE6"/>
<rect x="55" y="594" width="1" height="1" fill="#60B4E0"/>
<rect x="56" y="594" width="1" height="1" fill="#B0C8F0"/>
<rect x="58" y="594" width="1" height="1" fill="#B0C8F0"/>
<rect x="51" y="595" width="1" height="1" fill="#B0C8F0"/>
<rect x="53" y="595" width="1" height="1" fill="#84ACE6"/>
<rect x="55" y="595" width="1" height="1" fill="#B0C8F0"/>
<rect x="48" y="596" width="2" height="1" fill="#B0C8F0"/>
<rect x="50" y="596" width="1" height="1" fill="#84ACE6"/>
<rect x="51" y="596" width="1" height="1" fill="#B0C8F0"/>
<rect x="52" y="596" width="4" height="1" fill="#84ACE6"/>
<rect x="58" y="596" width="2" height="1" fill="#B0C8F0"/>
<rect x="62" y="596" width="1" height="1" fill="#B0C8F0"/>
<rect x="47" y="597" width="5" height="1" fill="#B0C8F0"/>
<rect x="52" y="597" width="1" height="1" fill="#84ACE6"/>
<rect x="53" y="597" width="1" height="1" fill="#B0C8F0"/>
<rect x="54" y="597" width="1" height="1" fill="#84ACE6"/>
<rect x="55" y="597" width="1" height="1" fill="#B0C8F0"/>
<rect x="58" y="597" width="1" height="1" fill="#B0C8F0"/>
<rect x="46" y="598" width="1" height="1" fill="#B0C8F0"/>
<rect x="47" y="598" width="2" height="1" fill="#84ACE6"/>
<rect x="49" y="598" width="1" height="1" fill="#B0C8F0"/>
<rect x="50" y="598" width="1" height="1" fill="#60B4E0"/>
<rect x="51" y="598" width="1" height="1" fill="#B0C8F0"/>
<rect x="52" y="598" width="3" height="1" fill="#84ACE6"/>
<rect x="55" y="598" width="1" height="1" fill="#B0C8F0"/>
<rect x="56" y="598" width="1" height="1" fill="#84ACE6"/>
<rect x="58" y="598" width="1" height="1" fill="#84ACE6"/>
<rect x="59" y="598" width="1" height="1" fill="#B0C8F0"/>
<rect x="49" y="599" width="1" height="1" fill="#60B4E0"/>
<rect x="50" y="599" width="1" height="1" fill="#B0C8F0"/>
<rect x="51" y="599" width="2" height="1" fill="#84ACE6"/>
<rect x="53" y="599" width="1" height="1" fill="#B0C8F0"/>
<rect x="54" y="599" width="1" height="1" fill="#84ACE6"/>
<rect x="55" y="599" width="1" height="1" fill="#60B4E0"/>
<rect x="58" y="599" width="1" height="1" fill="#B0C8F0"/>
<rect x="49" y="600" width="1" height="1" fill="#B0C8F0"/>
<rect x="50" y="600" width="4" height="1" fill="#84ACE6"/>
<rect x="54" y="600" width="1" height="1" fill="#B0C8F0"/>
<rect x="55" y="600" width="3" height="1" fill="#84ACE6"/>
<rect x="49" y="601" width="1" height="1" fill="#B0C8F0"/>
<rect x="50" y="601" width="1" height="1" fill="#60B4E0"/>
<rect x="51" y="601" width="1" height="1" fill="#84ACE6"/>
<rect x="53" y="601" width="1" height="1" fill="#60B4E0"/>
<rect x="54" y="601" width="2" height="1" fill="#84ACE6"/>
<rect x="56" y="601" width="1" height="1" fill="#B0C8F0"/>
<rect x="45" y="602" width="2" height="1" fill="#B0C8F0"/>
<rect x="47" y="602" width="2" height="1" fill="#84ACE6"/>
<rect x="49" y="602" width="1" height="1" fill="#60B4E0"/>
<rect x="50" y="602" width="1" height="1" fill="#B0C8F0"/>
<rect x="51" y="602" width="2" height="1" fill="#84ACE6"/>
<rect x="53" y="602" width="1" height="1" fill="#B0C8F0"/>
<rect x="54" y="602" width="1" height="1" fill="#84ACE6"/>
<rect x="55" y="602" width="1" height="1" fill="#B0C8F0"/>
<rect x="47" y="603" width="1" height="1" fill="#B0C8F0"/>
<rect x="49" y="603" width="2" height="1" fill="#B0C8F0"/>
<rect x="51" y="603" width="1" height="1" fill="#84ACE6"/>
<rect x="52" y="603" width="1" height="1" fill="#B0C8F0"/>
<rect x="53" y="603" width="1" height="1" fill="#60B4E0"/>
<rect x="54" y="603" width="1" height="1" fill="#84ACE6"/>
<rect x="46" y="604" width="1" height="1" fill="#84ACE6"/>
<rect x="48" y="604" width="1" height="1" fill="#B0C8F0"/>
<rect x="49" y="604" width="2" height="1" fill="#84ACE6"/>
<rect x="51" y="604" width="1" height="1" fill="#B0C8F0"/>
<rect x="52" y="604" width="1" height="1" fill="#84ACE6"/>
<rect x="54" y="604" width="1" height="1" fill="#84ACE6"/>
<rect x="55" y="604" width="1" height="1" fill="#60B4E0"/>
<rect x="56" y="604" width="1" height="1" fill="#B0C8F0"/>
<rect x="57" y="604" width="1" height="1" fill="#84ACE6"/>
<rect x="37" y="605" width="1" height="1" fill="#B0C8F0"/>
<rect x="43" y="605" width="1" height="1" fill="#B0C8F0"/>
<rect x="45" y="605" width="4" height="1" fill="#B0C8F0"/>
<rect x="49" y="605" width="1" height="1" fill="#60B4E0"/>
<rect x="50" y="605" width="1" height="1" fill="#B0C8F0"/>
<rect x="51" y="605" width="2" height="1" fill="#60B4E0"/>
<rect x="53" y="605" width="1" height="1" fill="#B0C8F0"/>
<rect x="54" y="605" width="1" height="1" fill="#60B4E0"/>
<rect x="55" y="605" width="1" height="1" fill="#84ACE6"/>
<rect x="57" y="605" width="1" height="1" fill="#B0C8F0"/>
<rect x="46" y="606" width="2" height="1" fill="#B0C8F0"/>
<rect x="48" y="606" width="1" height="1" fill="#84ACE6"/>
<rect x="49" y="606" width="2" height="1" fill="#60B4E0"/>
<rect x="51" y="606" width="1" height="1" fill="#84ACE6"/>
<rect x="52" y="606" width="1" height="1" fill="#48BCB0"/>
<rect x="53" y="606" width="1" height="1" fill="#60B4E0"/>
<rect x="54" y="606" width="1" height="1" fill="#84ACE6"/>
<rect x="55" y="606" width="1" height="1" fill="#B0C8F0"/>
<rect x="45" y="607" width="2" height="1" fill="#B0C8F0"/>
<rect x="47" y="607" width="1" height="1" fill="#84ACE6"/>
<rect x="48" y="607" width="1" height="1" fill="#60B4E0"/>
<rect x="49" y="607" width="1" height="1" fill="#B0C8F0"/>
<rect x="50" y="607" width="1" height="1" fill="#84ACE6"/>
<rect x="51" y="607" width="3" height="1" fill="#60B4E0"/>
<rect x="54" y="607" width="3" height="1" fill="#84ACE6"/>
<rect x="59" y="607" width="1" height="1" fill="#B0C8F0"/>
<rect x="41" y="608" width="1" height="1" fill="#B0C8F0"/>
<rect x="46" y="608" width="1" height="1" fill="#84ACE6"/>
<rect x="47" y="608" width="1" height="1" fill="#B0C8F0"/>
<rect x="48" y="608" width="1" height="1" fill="#60B4E0"/>
<rect x="49" y="608" width="1" height="1" fill="#84ACE6"/>
<rect x="50" y="608" width="3" height="1" fill="#48BCB0"/>
<rect x="53" y="608" width="1" height="1" fill="#84ACE6"/>
<rect x="54" y="608" width="1" height="1" fill="#60B4E0"/>
<rect x="56" y="608" width="1" height="1" fill="#84ACE6"/>
<rect x="57" y="608" width="1" height="1" fill="#B0C8F0"/>
<rect x="43" y="609" width="1" height="1" fill="#B0C8F0"/>
<rect x="44" y="609" width="1" height="1" fill="#84ACE6"/>
<rect x="45" y="609" width="1" height="1" fill="#B0C8F0"/>
<rect x="47" y="609" width="1" height="1" fill="#84ACE6"/>
<rect x="48" y="609" width="1" height="1" fill="#60B4E0"/>
<rect x="49" y="609" width="1" height="1" fill="#48BCB0"/>
<rect x="50" y="609" width="2" height="1" fill="#60B4E0"/>
<rect x="52" y="609" width="2" height="1" fill="#48BCB0"/>
<rect x="54" y="609" width="1" height="1" fill="#60B4E0"/>
<rect x="55" y="609" width="2" height="1" fill="#84ACE6"/>
<rect x="57" y="609" width="1" height="1" fill="#B0C8F0"/>
<rect x="43" y="610" width="1" height="1" fill="#84ACE6"/>
<rect x="45" y="610" width="1" height="1" fill="#84ACE6"/>
<rect x="46" y="610" width="6" height="1" fill="#60B4E0"/>
<rect x="52" y="610" width="3" height="1" fill="#48BCB0"/>
<rect x="55" y="610" width="1" height="1" fill="#60B4E0"/>
<rect x="56" y="610" width="1" height="1" fill="#84ACE6"/>
<rect x="57" y="610" width="1" height="1" fill="#B0C8F0"/>
<rect x="43" y="611" width="1" height="1" fill="#B0C8F0"/>
<rect x="44" y="611" width="2" height="1" fill="#84ACE6"/>
<rect x="46" y="611" width="1" height="1" fill="#60B4E0"/>
<rect x="47" y="611" width="1" height="1" fill="#84ACE6"/>
<rect x="48" y="611" width="1" height="1" fill="#60B4E0"/>
<rect x="49" y="611" width="1" height="1" fill="#48BCB0"/>
<rect x="50" y="611" width="3" height="1" fill="#60C458"/>
<rect x="53" y="611" width="2" height="1" fill="#60B4E0"/>
<rect x="55" y="611" width="1" height="1" fill="#48BCB0"/>
<rect x="56" y="611" width="2" height="1" fill="#84ACE6"/>
<rect x="42" y="612" width="1" height="1" fill="#B0C8F0"/>
<rect x="44" y="612" width="1" height="1" fill="#84ACE6"/>
<rect x="45" y="612" width="1" height="1" fill="#60B4E0"/>
<rect x="46" y="612" width="1" height="1" fill="#84ACE6"/>
<rect x="47" y="612" width="1" height="1" fill="#60B4E0"/>
<rect x="48" y="612" width="2" height="1" fill="#48BCB0"/>
<rect x="50" y="612" width="3" height="1" fill="#60C458"/>
<rect x="53" y="612" width="2" height="1" fill="#48BCB0"/>
<rect x="55" y="612" width="1" height="1" fill="#60B4E0"/>
<rect x="56" y="612" width="3" height="1" fill="#84ACE6"/>
<rect x="41" y="613" width="1" height="1" fill="#B0C8F0"/>
<rect x="43" y="613" width="1" height="1" fill="#B0C8F0"/>
<rect x="44" y="613" width="1" height="1" fill="#84ACE6"/>
<rect x="45" y="613" width="1" height="1" fill="#60B4E0"/>
<rect x="46" y="613" width="3" height="1" fill="#48BCB0"/>
<rect x="49" y="613" width="1" height="1" fill="#60C458"/>
<rect x="50" y="613" width="1" height="1" fill="#B4D640"/>
<rect x="51" y="613" width="3" height="1" fill="#60C458"/>
<rect x="54" y="613" width="2" height="1" fill="#48BCB0"/>
<rect x="56" y="613" width="1" height="1" fill="#60B4E0"/>
<rect x="57" y="613" width="1" height="1" fill="#B0C8F0"/>
<rect x="58" y="613" width="1" height="1" fill="#60B4E0"/>
<rect x="42" y="614" width="1" height="1" fill="#B0C8F0"/>
<rect x="43" y="614" width="1" height="1" fill="#84ACE6"/>
<rect x="44" y="614" width="1" height="1" fill="#B0C8F0"/>
<rect x="45" y="614" width="1" height="1" fill="#84ACE6"/>
<rect x="46" y="614" width="1" height="1" fill="#60B4E0"/>
<rect x="47" y="614" width="2" height="1" fill="#48BCB0"/>
<rect x="49" y="614" width="1" height="1" fill="#60C458"/>
<rect x="50" y="614" width="4" height="1" fill="#B4D640"/>
<rect x="54" y="614" width="3" height="1" fill="#48BCB0"/>
<rect x="58" y="614" width="2" height="1" fill="#B0C8F0"/>
<rect x="61" y="614" width="1" height="1" fill="#B0C8F0"/>
<rect x="42" y="615" width="1" height="1" fill="#B0C8F0"/>
<rect x="44" y="615" width="1" height="1" fill="#84ACE6"/>
<rect x="45" y="615" width="1" height="1" fill="#B0C8F0"/>
<rect x="46" y="615" width="1" height="1" fill="#60B4E0"/>
<rect x="47" y="615" width="1" height="1" fill="#60C458"/>
<rect x="48" y="615" width="1" height="1" fill="#48BCB0"/>
<rect x="49" y="615" width="1" height="1" fill="#B4D640"/>
<rect x="50" y="615" width="1" height="1" fill="#E4E448"/>
<rect x="51" y="615" width="3" height="1" fill="#60C458"/>
<rect x="54" y="615" width="2" height="1" fill="#48BCB0"/>
<rect x="56" y="615" width="1" height="1" fill="#60B4E0"/>
<rect x="57" y="615" width="1" height="1" fill="#84ACE6"/>
<rect x="58" y="615" width="2" height="1" fill="#B0C8F0"/>
<rect x="42" y="616" width="1" height="1" fill="#B0C8F0"/>
<rect x="44" y="616" width="1" height="1" fill="#60B4E0"/>
<rect x="45" y="616" width="1" height="1" fill="#84ACE6"/>
<rect x="46" y="616" width="1" height="1" fill="#60B4E0"/>
<rect x="47" y="616" width="1" height="1" fill="#48BCB0"/>
<rect x="48" y="616" width="1" height="1" fill="#60C458"/>
<rect x="49" y="616" width="1" height="1" fill="#B4D640"/>
<rect x="50" y="616" width="1" height="1" fill="#E4E448"/>
<rect x="51" y="616" width="1" height="1" fill="#B4D640"/>
<rect x="52" y="616" width="1" height="1" fill="#E4E448"/>
<rect x="53" y="616" width="1" height="1" fill="#48BCB0"/>
<rect x="54" y="616" width="1" height="1" fill="#60C458"/>
<rect x="55" y="616" width="2" height="1" fill="#48BCB0"/>
<rect x="57" y="616" width="1" height="1" fill="#84ACE6"/>
<rect x="59" y="616" width="2" height="1" fill="#B0C8F0"/>
<rect x="41" y="617" width="2" height="1" fill="#B0C8F0"/>
<rect x="44" y="617" width="2" height="1" fill="#60B4E0"/>
<rect x="46" y="617" width="1" height="1" fill="#48BCB0"/>
<rect x="47" y="617" width="2" height="1" fill="#60C458"/>
<rect x="49" y="617" width="1" height="1" fill="#B4D640"/>
<rect x="50" y="617" width="4" height="1" fill="#E4E448"/>
<rect x="54" y="617" width="3" height="1" fill="#48BCB0"/>
<rect x="57" y="617" width="1" height="1" fill="#60B4E0"/>
<rect x="58" y="617" width="1" height="1" fill="#B0C8F0"/>
<rect x="61" y="617" width="2" height="1" fill="#B0C8F0"/>
<rect x="41" y="618" width="2" height="1" fill="#B0C8F0"/>
<rect x="43" y="618" width="1" height="1" fill="#60B4E0"/>
<rect x="44" y="618" width="1" height="1" fill="#84ACE6"/>
<rect x="45" y="618" width="1" height="1" fill="#60B4E0"/>
<rect x="46" y="618" width="1" height="1" fill="#48BCB0"/>
<rect x="47" y="618" width="1" height="1" fill="#60C458"/>
<rect x="48" y="618" width="4" height="1" fill="#B4D640"/>
<rect x="52" y="618" width="1" height="1" fill="#E4E448"/>
<rect x="53" y="618" width="1" height="1" fill="#B4D640"/>
<rect x="54" y="618" width="2" height="1" fill="#60C458"/>
<rect x="56" y="618" width="1" height="1" fill="#60B4E0"/>
<rect x="57" y="618" width="1" height="1" fill="#B0C8F0"/>
<rect x="58" y="618" width="1" height="1" fill="#84ACE6"/>
<rect x="61" y="618" width="1" height="1" fill="#B0C8F0"/>
<rect x="42" y="619" width="1" height="1" fill="#84ACE6"/>
<rect x="43" y="619" width="1" height="1" fill="#60B4E0"/>
<rect x="44" y="619" width="1" height="1" fill="#84ACE6"/>
<rect x="45" y="619" width="1" height="1" fill="#60B4E0"/>
<rect x="46" y="619" width="2" height="1" fill="#48BCB0"/>
<rect x="48" y="619" width="2" height="1" fill="#60C458"/>
<rect x="50" y="619" width="1" height="1" fill="#B4D640"/>
<rect x="51" y="619" width="1" height="1" fill="#E4E448"/>
<rect x="52" y="619" width="1" height="1" fill="#B4D640"/>
<rect x="53" y="619" width="2" height="1" fill="#60C458"/>
<rect x="55" y="619" width="2" height="1" fill="#48BCB0"/>
<rect x="57" y="619" width="1" height="1" fill="#60B4E0"/>
<rect x="58" y="619" width="1" height="1" fill="#84ACE6"/>
<rect x="59" y="619" width="1" height="1" fill="#B0C8F0"/>
<rect x="39" y="620" width="2" height="1" fill="#B0C8F0"/>
<rect x="42" y="620" width="1" height="1" fill="#B0C8F0"/>
<rect x="45" y="620" width="1" height="1" fill="#60B4E0"/>
<rect x="46" y="620" width="1" height="1" fill="#48BCB0"/>
<rect x="47" y="620" width="1" height="1" fill="#60B4E0"/>
<rect x="48" y="620" width="1" height="1" fill="#48BCB0"/>
<rect x="49" y="620" width="4" height="1" fill="#B4D640"/>
<rect x="53" y="620" width="1" height="1" fill="#60C458"/>
<rect x="54" y="620" width="2" height="1" fill="#48BCB0"/>
<rect x="56" y="620" width="1" height="1" fill="#60B4E0"/>
<rect x="57" y="620" width="1" height="1" fill="#84ACE6"/>
<rect x="58" y="620" width="1" height="1" fill="#60B4E0"/>
<rect x="59" y="620" width="2" height="1" fill="#B0C8F0"/>
<rect x="39" y="621" width="2" height="1" fill="#B0C8F0"/>
<rect x="43" y="621" width="1" height="1" fill="#84ACE6"/>
<rect x="44" y="621" width="2" height="1" fill="#60B4E0"/>
<rect x="46" y="621" width="2" height="1" fill="#48BCB0"/>
<rect x="48" y="621" width="1" height="1" fill="#60C458"/>
<rect x="49" y="621" width="1" height="1" fill="#B4D640"/>
<rect x="50" y="621" width="1" height="1" fill="#60C458"/>
<rect x="51" y="621" width="1" height="1" fill="#B4D640"/>
<rect x="52" y="621" width="1" height="1" fill="#60C458"/>
<rect x="53" y="621" width="3" height="1" fill="#48BCB0"/>
<rect x="56" y="621" width="2" height="1" fill="#60B4E0"/>
<rect x="58" y="621" width="1" height="1" fill="#84ACE6"/>
<rect x="41" y="622" width="1" height="1" fill="#B0C8F0"/>
<rect x="42" y="622" width="1" height="1" fill="#84ACE6"/>
<rect x="44" y="622" width="2" height="1" fill="#60B4E0"/>
<rect x="46" y="622" width="1" height="1" fill="#48BCB0"/>
<rect x="47" y="622" width="2" height="1" fill="#60C458"/>
<rect x="49" y="622" width="3" height="1" fill="#B4D640"/>
<rect x="52" y="622" width="3" height="1" fill="#60C458"/>
<rect x="55" y="622" width="1" height="1" fill="#48BCB0"/>
<rect x="56" y="622" width="1" height="1" fill="#60B4E0"/>
<rect x="57" y="622" width="2" height="1" fill="#84ACE6"/>
<rect x="59" y="622" width="2" height="1" fill="#B0C8F0"/>
<rect x="36" y="623" width="1" height="1" fill="#B0C8F0"/>
<rect x="43" y="623" width="1" height="1" fill="#60B4E0"/>
<rect x="44" y="623" width="1" height="1" fill="#B0C8F0"/>
<rect x="45" y="623" width="1" height="1" fill="#60B4E0"/>
<rect x="46" y="623" width="1" height="1" fill="#48BCB0"/>
<rect x="47" y="623" width="1" height="1" fill="#60C458"/>
<rect x="48" y="623" width="1" height="1" fill="#48BCB0"/>
<rect x="49" y="623" width="2" height="1" fill="#60C458"/>
<rect x="51" y="623" width="1" height="1" fill="#B4D640"/>
<rect x="52" y="623" width="4" height="1" fill="#48BCB0"/>
<rect x="56" y="623" width="1" height="1" fill="#60B4E0"/>
<rect x="57" y="623" width="2" height="1" fill="#84ACE6"/>
<rect x="61" y="623" width="1" height="1" fill="#B0C8F0"/>
<rect x="40" y="624" width="3" height="1" fill="#B0C8F0"/>
<rect x="43" y="624" width="1" height="1" fill="#84ACE6"/>
<rect x="44" y="624" width="3" height="1" fill="#60B4E0"/>
<rect x="47" y="624" width="2" height="1" fill="#48BCB0"/>
<rect x="49" y="624" width="1" height="1" fill="#60C458"/>
<rect x="50" y="624" width="1" height="1" fill="#48BCB0"/>
<rect x="51" y="624" width="1" height="1" fill="#60C458"/>
<rect x="52" y="624" width="3" height="1" fill="#48BCB0"/>
<rect x="55" y="624" width="3" height="1" fill="#60B4E0"/>
<rect x="59" y="624" width="1" height="1" fill="#84ACE6"/>
<rect x="41" y="625" width="1" height="1" fill="#84ACE6"/>
<rect x="44" y="625" width="1" height="1" fill="#84ACE6"/>
<rect x="45" y="625" width="1" height="1" fill="#60B4E0"/>
<rect x="46" y="625" width="1" height="1" fill="#84ACE6"/>
<rect x="47" y="625" width="2" height="1" fill="#48BCB0"/>
<rect x="49" y="625" width="4" height="1" fill="#60C458"/>
<rect x="53" y="625" width="2" height="1" fill="#48BCB0"/>
<rect x="55" y="625" width="1" height="1" fill="#84ACE6"/>
<rect x="56" y="625" width="1" height="1" fill="#60B4E0"/>
<rect x="57" y="625" width="2" height="1" fill="#B0C8F0"/>
<rect x="42" y="626" width="1" height="1" fill="#60B4E0"/>
<rect x="43" y="626" width="2" height="1" fill="#B0C8F0"/>
<rect x="45" y="626" width="1" height="1" fill="#84ACE6"/>
<rect x="46" y="626" width="1" height="1" fill="#48BCB0"/>
<rect x="47" y="626" width="1" height="1" fill="#60B4E0"/>
<rect x="48" y="626" width="1" height="1" fill="#48BCB0"/>
<rect x="49" y="626" width="2" height="1" fill="#60C458"/>
<rect x="51" y="626" width="4" height="1" fill="#48BCB0"/>
<rect x="55" y="626" width="2" height="1" fill="#60B4E0"/>
<rect x="57" y="626" width="1" height="1" fill="#B0C8F0"/>
<rect x="58" y="626" width="1" height="1" fill="#84ACE6"/>
<rect x="41" y="627" width="1" height="1" fill="#84ACE6"/>
<rect x="44" y="627" width="1" height="1" fill="#84ACE6"/>
<rect x="45" y="627" width="3" height="1" fill="#60B4E0"/>
<rect x="48" y="627" width="5" height="1" fill="#48BCB0"/>
<rect x="53" y="627" width="1" height="1" fill="#60B4E0"/>
<rect x="54" y="627" width="1" height="1" fill="#48BCB0"/>
<rect x="55" y="627" width="1" height="1" fill="#60B4E0"/>
<rect x="56" y="627" width="2" height="1" fill="#84ACE6"/>
<rect x="58" y="627" width="1" height="1" fill="#60B4E0"/>
<rect x="59" y="627" width="2" height="1" fill="#84ACE6"/>
<rect x="37" y="628" width="2" height="1" fill="#B0C8F0"/>
<rect x="40" y="628" width="1" height="1" fill="#B0C8F0"/>
<rect x="44" y="628" width="1" height="1" fill="#60B4E0"/>
<rect x="45" y="628" width="2" height="1" fill="#84ACE6"/>
<rect x="47" y="628" width="1" height="1" fill="#B0C8F0"/>
<rect x="48" y="628" width="2" height="1" fill="#60B4E0"/>
<rect x="50" y="628" width="1" height="1" fill="#48BCB0"/>
<rect x="51" y="628" width="1" height="1" fill="#60C458"/>
<rect x="52" y="628" width="2" height="1" fill="#48BCB0"/>
<rect x="54" y="628" width="3" height="1" fill="#84ACE6"/>
<rect x="58" y="628" width="1" height="1" fill="#B0C8F0"/>
<rect x="41" y="629" width="1" height="1" fill="#B0C8F0"/>
<rect x="42" y="629" width="2" height="1" fill="#84ACE6"/>
<rect x="44" y="629" width="2" height="1" fill="#B0C8F0"/>
<rect x="46" y="629" width="1" height="1" fill="#60B4E0"/>
<rect x="47" y="629" width="1" height="1" fill="#48BCB0"/>
<rect x="48" y="629" width="2" height="1" fill="#60B4E0"/>
<rect x="50" y="629" width="1" height="1" fill="#48BCB0"/>
<rect x="51" y="629" width="1" height="1" fill="#60B4E0"/>
<rect x="52" y="629" width="2" height="1" fill="#48BCB0"/>
<rect x="54" y="629" width="2" height="1" fill="#60B4E0"/>
<rect x="56" y="629" width="1" height="1" fill="#84ACE6"/>
<rect x="57" y="629" width="1" height="1" fill="#60B4E0"/>
<rect x="58" y="629" width="1" height="1" fill="#B0C8F0"/>
<rect x="61" y="629" width="1" height="1" fill="#B0C8F0"/>
<rect x="41" y="630" width="1" height="1" fill="#B0C8F0"/>
<rect x="44" y="630" width="1" height="1" fill="#60B4E0"/>
<rect x="45" y="630" width="2" height="1" fill="#84ACE6"/>
<rect x="47" y="630" width="1" height="1" fill="#B0C8F0"/>
<rect x="48" y="630" width="2" height="1" fill="#60B4E0"/>
<rect x="50" y="630" width="2" height="1" fill="#48BCB0"/>
<rect x="52" y="630" width="1" height="1" fill="#60B4E0"/>
<rect x="53" y="630" width="4" height="1" fill="#84ACE6"/>
<rect x="57" y="630" width="1" height="1" fill="#60B4E0"/>
<rect x="41" y="631" width="1" height="1" fill="#84ACE6"/>
<rect x="43" y="631" width="1" height="1" fill="#B0C8F0"/>
<rect x="44" y="631" width="1" height="1" fill="#84ACE6"/>
<rect x="45" y="631" width="1" height="1" fill="#60B4E0"/>
<rect x="46" y="631" width="1" height="1" fill="#84ACE6"/>
<rect x="47" y="631" width="3" height="1" fill="#60B4E0"/>
<rect x="50" y="631" width="1" height="1" fill="#48BCB0"/>
<rect x="51" y="631" width="4" height="1" fill="#60B4E0"/>
<rect x="56" y="631" width="1" height="1" fill="#84ACE6"/>
<rect x="57" y="631" width="1" height="1" fill="#B0C8F0"/>
<rect x="43" y="632" width="3" height="1" fill="#B0C8F0"/>
<rect x="46" y="632" width="1" height="1" fill="#60B4E0"/>
<rect x="47" y="632" width="1" height="1" fill="#84ACE6"/>
<rect x="48" y="632" width="3" height="1" fill="#60B4E0"/>
<rect x="51" y="632" width="1" height="1" fill="#48BCB0"/>
<rect x="52" y="632" width="4" height="1" fill="#60B4E0"/>
<rect x="56" y="632" width="1" height="1" fill="#B0C8F0"/>
<rect x="57" y="632" width="1" height="1" fill="#84ACE6"/>
<rect x="58" y="632" width="1" height="1" fill="#B0C8F0"/>
<rect x="63" y="632" width="1" height="1" fill="#B0C8F0"/>
<rect x="41" y="633" width="1" height="1" fill="#84ACE6"/>
<rect x="43" y="633" width="1" height="1" fill="#60B4E0"/>
<rect x="44" y="633" width="1" height="1" fill="#B0C8F0"/>
<rect x="46" y="633" width="1" height="1" fill="#60B4E0"/>
<rect x="47" y="633" width="1" height="1" fill="#84ACE6"/>
<rect x="48" y="633" width="1" height="1" fill="#60B4E0"/>
<rect x="49" y="633" width="1" height="1" fill="#48BCB0"/>
<rect x="50" y="633" width="3" height="1" fill="#60B4E0"/>
<rect x="53" y="633" width="2" height="1" fill="#84ACE6"/>
<rect x="55" y="633" width="1" height="1" fill="#60B4E0"/>
<rect x="56" y="633" width="1" height="1" fill="#B0C8F0"/>
<rect x="57" y="633" width="2" height="1" fill="#84ACE6"/>
<rect x="43" y="634" width="1" height="1" fill="#84ACE6"/>
<rect x="44" y="634" width="1" height="1" fill="#60B4E0"/>
<rect x="45" y="634" width="1" height="1" fill="#84ACE6"/>
<rect x="46" y="634" width="1" height="1" fill="#B0C8F0"/>
<rect x="47" y="634" width="1" height="1" fill="#84ACE6"/>
<rect x="48" y="634" width="1" height="1" fill="#60B4E0"/>
<rect x="49" y="634" width="1" height="1" fill="#48BCB0"/>
<rect x="50" y="634" width="2" height="1" fill="#60B4E0"/>
<rect x="52" y="634" width="2" height="1" fill="#48BCB0"/>
<rect x="54" y="634" width="1" height="1" fill="#84ACE6"/>
<rect x="55" y="634" width="1" height="1" fill="#60B4E0"/>
<rect x="56" y="634" width="1" height="1" fill="#84ACE6"/>
<rect x="58" y="634" width="1" height="1" fill="#84ACE6"/>
<rect x="39" y="635" width="2" height="1" fill="#B0C8F0"/>
<rect x="44" y="635" width="3" height="1" fill="#84ACE6"/>
<rect x="47" y="635" width="1" height="1" fill="#48BCB0"/>
<rect x="48" y="635" width="1" height="1" fill="#60B4E0"/>
<rect x="49" y="635" width="2" height="1" fill="#48BCB0"/>
<rect x="51" y="635" width="1" height="1" fill="#84ACE6"/>
<rect x="52" y="635" width="2" height="1" fill="#60B4E0"/>
<rect x="54" y="635" width="1" height="1" fill="#84ACE6"/>
<rect x="55" y="635" width="1" height="1" fill="#60B4E0"/>
<rect x="57" y="635" width="2" height="1" fill="#84ACE6"/>
<rect x="59" y="635" width="1" height="1" fill="#B0C8F0"/>
<rect x="41" y="636" width="1" height="1" fill="#B0C8F0"/>
<rect x="44" y="636" width="1" height="1" fill="#84ACE6"/>
<rect x="46" y="636" width="1" height="1" fill="#84ACE6"/>
<rect x="47" y="636" width="1" height="1" fill="#B0C8F0"/>
<rect x="49" y="636" width="2" height="1" fill="#B0C8F0"/>
<rect x="55" y="636" width="1" height="1" fill="#B0C8F0"/>
</g>
<ellipse cx="61.5" cy="588.5" rx="2.8" ry="1.3" fill="#98B8EC" opacity="0.75" filter="url(#bl1)"/>
</g>
<line x1="57.5" y1="571.6" x2="57.5" y2="637.6" stroke="#B86098" stroke-width="0.8"/>
<line x1="34.0" y1="596.0" x2="97.6" y2="596.0" stroke="#C878B0" stroke-width="0.8"/>
<line x1="34.0" y1="608.8" x2="97.6" y2="608.8" stroke="#C878B0" stroke-width="0.8"/>
<path d="M34.0,571.6 V637.6 H97.6" fill="none" stroke="#000" stroke-width="1.1"/>
<line x1="32.5" y1="578.0" x2="34.0" y2="578.0" stroke="#000" stroke-width="0.7"/>
<text x="32.0" y="579.6" text-anchor="end" font-size="3.9" font-weight="bold" fill="#111" font-family="Liberation Sans, sans-serif">10<tspan font-size="2.8" dy="-1.4">5</tspan></text>
<line x1="32.5" y1="592.5" x2="34.0" y2="592.5" stroke="#000" stroke-width="0.7"/>
<text x="32.0" y="594.1" text-anchor="end" font-size="3.9" font-weight="bold" fill="#111" font-family="Liberation Sans, sans-serif">10<tspan font-size="2.8" dy="-1.4">4</tspan></text>
<line x1="32.5" y1="608.5" x2="34.0" y2="608.5" stroke="#000" stroke-width="0.7"/>
<text x="32.0" y="610.1" text-anchor="end" font-size="3.9" font-weight="bold" fill="#111" font-family="Liberation Sans, sans-serif">10<tspan font-size="2.8" dy="-1.4">3</tspan></text>
<line x1="32.5" y1="622.5" x2="34.0" y2="622.5" stroke="#000" stroke-width="0.7"/>
<text x="32.0" y="624.1" text-anchor="end" font-size="3.9" font-weight="bold" fill="#111" font-family="Liberation Sans, sans-serif">10<tspan font-size="2.8" dy="-1.4">2</tspan></text>
<line x1="32.5" y1="631.0" x2="34.0" y2="631.0" stroke="#000" stroke-width="0.7"/>
<text x="32.0" y="632.6" text-anchor="end" font-size="3.9" font-weight="bold" fill="#111" font-family="Liberation Sans, sans-serif">0</text>
<line x1="40.0" y1="637.6" x2="40.0" y2="639.1" stroke="#000" stroke-width="0.7"/>
<text x="40.0" y="644.2" text-anchor="middle" font-size="3.9" font-weight="bold" fill="#111" font-family="Liberation Sans, sans-serif">0</text>
<line x1="47.0" y1="637.6" x2="47.0" y2="639.1" stroke="#000" stroke-width="0.7"/>
<text x="47.8" y="644.2" text-anchor="middle" font-size="3.9" font-weight="bold" fill="#111" font-family="Liberation Sans, sans-serif">10<tspan font-size="2.8" dy="-1.4">2</tspan></text>
<line x1="62.0" y1="637.6" x2="62.0" y2="639.1" stroke="#000" stroke-width="0.7"/>
<text x="62.8" y="644.2" text-anchor="middle" font-size="3.9" font-weight="bold" fill="#111" font-family="Liberation Sans, sans-serif">10<tspan font-size="2.8" dy="-1.4">3</tspan></text>
<line x1="77.5" y1="637.6" x2="77.5" y2="639.1" stroke="#000" stroke-width="0.7"/>
<text x="78.3" y="644.2" text-anchor="middle" font-size="3.9" font-weight="bold" fill="#111" font-family="Liberation Sans, sans-serif">10<tspan font-size="2.8" dy="-1.4">4</tspan></text>
<line x1="92.0" y1="637.6" x2="92.0" y2="639.1" stroke="#000" stroke-width="0.7"/>
<text x="92.8" y="644.2" text-anchor="middle" font-size="3.9" font-weight="bold" fill="#111" font-family="Liberation Sans, sans-serif">10<tspan font-size="2.8" dy="-1.4">5</tspan></text>
<text x="83.0" y="582.6" font-size="11.5" fill="#333" stroke="#333" stroke-width="0.3" textLength="12.8" lengthAdjust="spacingAndGlyphs" font-family="Liberation Sans, sans-serif">++</text>
<text x="91.1" y="605.2" text-anchor="middle" font-size="11.5" fill="#333" stroke="#333" stroke-width="0.3" font-family="Liberation Sans, sans-serif">+</text>
<text x="89.5" y="620.7" text-anchor="middle" font-size="11.5" fill="#333" stroke="#333" stroke-width="0.3" font-family="Liberation Sans, sans-serif">-</text>
<text x="30.8" y="657.1" font-size="8.9" font-weight="bold" fill="#111" textLength="22.5" lengthAdjust="spacingAndGlyphs" font-family="Liberation Sans, sans-serif">CCR6</text>
<line x1="61.3" y1="655.3" x2="78.4" y2="655.3" stroke="#111" stroke-width="1.3"/>
<path d="M81.4,655.3 L76.4,652.7 L76.4,657.9 Z" fill="#111"/>
<text transform="translate(23.6,622.0) rotate(-90)" text-anchor="middle" font-size="9.3" font-weight="bold" fill="#111" textLength="27.2" lengthAdjust="spacingAndGlyphs" font-family="Liberation Sans, sans-serif">CD161</text>
<line x1="19.5" y1="603.5" x2="19.5" y2="585.5" stroke="#111" stroke-width="1.3"/>
<path d="M19.5,582.3 L16.9,587.3 L22.1,587.3 Z" fill="#111"/>
<path d="M133.9,493.0 V548.3 H219.0" fill="none" stroke="#000" stroke-width="1.6"/>
<line x1="131.9" y1="493.0" x2="133.9" y2="493.0" stroke="#000" stroke-width="1"/>
<text x="131.8" y="495.0" text-anchor="end" font-size="5.8" font-weight="bold" fill="#222" font-family="Liberation Sans, sans-serif">80</text>
<line x1="131.9" y1="506.8" x2="133.9" y2="506.8" stroke="#000" stroke-width="1"/>
<text x="131.8" y="508.8" text-anchor="end" font-size="5.8" font-weight="bold" fill="#222" font-family="Liberation Sans, sans-serif">60</text>
<line x1="131.9" y1="520.6" x2="133.9" y2="520.6" stroke="#000" stroke-width="1"/>
<text x="131.8" y="522.6" text-anchor="end" font-size="5.8" font-weight="bold" fill="#222" font-family="Liberation Sans, sans-serif">40</text>
<line x1="131.9" y1="534.5" x2="133.9" y2="534.5" stroke="#000" stroke-width="1"/>
<text x="131.8" y="536.5" text-anchor="end" font-size="5.8" font-weight="bold" fill="#222" font-family="Liberation Sans, sans-serif">20</text>
<line x1="131.9" y1="548.3" x2="133.9" y2="548.3" stroke="#000" stroke-width="1"/>
<text x="131.8" y="550.3" text-anchor="end" font-size="5.8" font-weight="bold" fill="#222" font-family="Liberation Sans, sans-serif">0</text>
<line x1="150.2" y1="548.3" x2="150.2" y2="550.3" stroke="#000" stroke-width="1"/>
<line x1="177.7" y1="548.3" x2="177.7" y2="550.3" stroke="#000" stroke-width="1"/>
<line x1="206.3" y1="548.3" x2="206.3" y2="550.3" stroke="#000" stroke-width="1"/>
<text transform="translate(121.4,519.7) rotate(-90)" text-anchor="middle" font-size="7.6" font-weight="bold" fill="#222" textLength="55.0" lengthAdjust="spacingAndGlyphs" font-family="Liberation Sans, sans-serif">% IL18R +ve cells</text>
<line x1="147.7" y1="483.9" x2="204.6" y2="483.9" stroke="#000" stroke-width="2"/>
<line x1="147.7" y1="481.3" x2="147.7" y2="486.5" stroke="#000" stroke-width="1.6"/>
<line x1="204.6" y1="481.3" x2="204.6" y2="486.5" stroke="#000" stroke-width="1.6"/>
<text x="173.5" y="484.8" text-anchor="middle" font-size="6.5" font-weight="bold" fill="#222" font-family="Liberation Sans, sans-serif">**</text>
<line x1="147.7" y1="491.9" x2="180.4" y2="491.9" stroke="#000" stroke-width="2"/>
<line x1="147.7" y1="489.3" x2="147.7" y2="494.5" stroke="#000" stroke-width="1.6"/>
<line x1="180.4" y1="489.3" x2="180.4" y2="494.5" stroke="#000" stroke-width="1.6"/>
<text x="164.0" y="492.3" text-anchor="middle" font-size="6.5" font-weight="bold" fill="#222" font-family="Liberation Sans, sans-serif">**</text>
<circle cx="149.0" cy="497.9" r="2.3" fill="#111"/>
<circle cx="146.0" cy="505.7" r="2.3" fill="#111"/>
<circle cx="150.5" cy="504.6" r="2.3" fill="#111"/>
<circle cx="153.4" cy="506.7" r="2.3" fill="#111"/>
<circle cx="147.7" cy="509.0" r="2.3" fill="#111"/>
<circle cx="149.5" cy="512.0" r="2.3" fill="#111"/>
<circle cx="148.0" cy="518.4" r="2.3" fill="#111"/>
<circle cx="155.5" cy="518.4" r="2.3" fill="#111"/>
<rect x="168.2" y="534.7" width="4.2" height="4.2" fill="#111"/>
<rect x="171.4" y="538.5" width="4.2" height="4.2" fill="#111"/>
<rect x="175.6" y="538.5" width="4.2" height="4.2" fill="#111"/>
<rect x="180.9" y="540.2" width="4.2" height="4.2" fill="#111"/>
<rect x="175.2" y="542.7" width="4.2" height="4.2" fill="#111"/>
<rect x="178.4" y="538.9" width="4.2" height="4.2" fill="#111"/>
<path d="M206.3,536.9 l2.5,4.2 h-5 Z" fill="#111"/>
<path d="M203.0,542.4 l2.5,4.2 h-5 Z" fill="#111"/>
<path d="M208.0,542.9 l2.5,4.2 h-5 Z" fill="#111"/>
<path d="M211.0,543.4 l2.5,4.2 h-5 Z" fill="#111"/>
<path d="M200.5,543.7 l2.5,4.2 h-5 Z" fill="#111"/>
<path d="M206.0,544.4 l2.5,4.2 h-5 Z" fill="#111"/>
<line x1="140.7" y1="509.3" x2="158.2" y2="509.3" stroke="#111" stroke-width="1.5"/>
<path d="M149.4,506.5 V512.1 M145.9,506.5 H152.9 M145.9,512.1 H152.9" stroke="#111" stroke-width="1.2" fill="none"/>
<line x1="169.2" y1="543.1" x2="185.1" y2="543.1" stroke="#111" stroke-width="1.5"/>
<path d="M177.1,542.1 V544.1 M173.6,542.1 H180.6 M173.6,544.1 H180.6" stroke="#111" stroke-width="1.2" fill="none"/>
<line x1="198.9" y1="544.8" x2="214.7" y2="544.8" stroke="#111" stroke-width="1.5"/>
<path d="M206.8,544.0 V545.6 M203.3,544.0 H210.3 M203.3,545.6 H210.3" stroke="#111" stroke-width="1.2" fill="none"/>
<text x="137.8" y="555.6" font-size="6.1" font-weight="bold" fill="#222" stroke="#222" stroke-width="0.25" textLength="22.5" lengthAdjust="spacingAndGlyphs" font-family="Liberation Sans, sans-serif">CD161++</text>
<text x="167.7" y="555.6" font-size="6.1" font-weight="bold" fill="#222" stroke="#222" stroke-width="0.25" textLength="19.4" lengthAdjust="spacingAndGlyphs" font-family="Liberation Sans, sans-serif">CD161+</text>
<text x="196.6" y="555.6" font-size="6.1" font-weight="bold" fill="#222" stroke="#222" stroke-width="0.25" textLength="14.7" lengthAdjust="spacingAndGlyphs" font-family="Liberation Sans, sans-serif">CD161-</text>
<path d="M131.7,586.5 V644.2 H220.6" fill="none" stroke="#000" stroke-width="1.6"/>
<line x1="129.7" y1="586.5" x2="131.7" y2="586.5" stroke="#000" stroke-width="1"/>
<text x="129.6" y="588.5" text-anchor="end" font-size="5.8" font-weight="bold" fill="#222" font-family="Liberation Sans, sans-serif">80</text>
<line x1="129.7" y1="600.9" x2="131.7" y2="600.9" stroke="#000" stroke-width="1"/>
<text x="129.6" y="602.9" text-anchor="end" font-size="5.8" font-weight="bold" fill="#222" font-family="Liberation Sans, sans-serif">60</text>
<line x1="129.7" y1="615.4" x2="131.7" y2="615.4" stroke="#000" stroke-width="1"/>
<text x="129.6" y="617.4" text-anchor="end" font-size="5.8" font-weight="bold" fill="#222" font-family="Liberation Sans, sans-serif">40</text>
<line x1="129.7" y1="629.8" x2="131.7" y2="629.8" stroke="#000" stroke-width="1"/>
<text x="129.6" y="631.8" text-anchor="end" font-size="5.8" font-weight="bold" fill="#222" font-family="Liberation Sans, sans-serif">20</text>
<line x1="129.7" y1="644.2" x2="131.7" y2="644.2" stroke="#000" stroke-width="1"/>
<text x="129.6" y="646.2" text-anchor="end" font-size="5.8" font-weight="bold" fill="#222" font-family="Liberation Sans, sans-serif">0</text>
<line x1="147.6" y1="644.2" x2="147.6" y2="646.2" stroke="#000" stroke-width="1"/>
<line x1="176.3" y1="644.2" x2="176.3" y2="646.2" stroke="#000" stroke-width="1"/>
<line x1="204.5" y1="644.2" x2="204.5" y2="646.2" stroke="#000" stroke-width="1"/>
<text transform="translate(120.8,614.1) rotate(-90)" text-anchor="middle" font-size="7.6" font-weight="bold" fill="#222" textLength="57.4" lengthAdjust="spacingAndGlyphs" font-family="Liberation Sans, sans-serif">% CCR6 +ve cells</text>
<line x1="147.6" y1="587.2" x2="187.4" y2="587.2" stroke="#000" stroke-width="2"/>
<line x1="147.6" y1="584.6" x2="147.6" y2="589.8" stroke="#000" stroke-width="1.6"/>
<line x1="187.4" y1="584.6" x2="187.4" y2="589.8" stroke="#000" stroke-width="1.6"/>
<text x="169.7" y="587.3" text-anchor="middle" font-size="6.5" font-weight="bold" fill="#222" font-family="Liberation Sans, sans-serif">**</text>
<line x1="147.6" y1="599.3" x2="211.7" y2="599.3" stroke="#000" stroke-width="2"/>
<line x1="147.6" y1="596.7" x2="147.6" y2="601.9" stroke="#000" stroke-width="1.6"/>
<line x1="211.7" y1="596.7" x2="211.7" y2="601.9" stroke="#000" stroke-width="1.6"/>
<text x="175.2" y="598.8" text-anchor="middle" font-size="6.5" font-weight="bold" fill="#222" font-family="Liberation Sans, sans-serif">**</text>
<circle cx="147.2" cy="612.2" r="2.3" fill="#111"/>
<circle cx="141.0" cy="622.5" r="2.3" fill="#111"/>
<circle cx="144.3" cy="620.3" r="2.3" fill="#111"/>
<circle cx="148.5" cy="620.3" r="2.3" fill="#111"/>
<circle cx="151.5" cy="621.5" r="2.3" fill="#111"/>
<circle cx="154.2" cy="622.5" r="2.3" fill="#111"/>
<circle cx="141.0" cy="627.6" r="2.3" fill="#111"/>
<circle cx="146.5" cy="629.2" r="2.3" fill="#111"/>
<circle cx="153.1" cy="627.6" r="2.3" fill="#111"/>
<circle cx="150.0" cy="624.0" r="2.3" fill="#111"/>
<rect x="165.9" y="640.4" width="4.2" height="4.2" fill="#111"/>
<rect x="168.9" y="639.4" width="4.2" height="4.2" fill="#111"/>
<rect x="171.9" y="638.4" width="4.2" height="4.2" fill="#111"/>
<rect x="174.9" y="638.7" width="4.2" height="4.2" fill="#111"/>
<rect x="177.9" y="639.4" width="4.2" height="4.2" fill="#111"/>
<rect x="180.9" y="640.1" width="4.2" height="4.2" fill="#111"/>
<rect x="172.9" y="640.9" width="4.2" height="4.2" fill="#111"/>
<rect x="169.9" y="641.1" width="4.2" height="4.2" fill="#111"/>
<path d="M197.0,640.4 l2.5,4.2 h-5 Z" fill="#111"/>
<path d="M200.0,640.0 l2.5,4.2 h-5 Z" fill="#111"/>
<path d="M204.0,639.6 l2.5,4.2 h-5 Z" fill="#111"/>
<path d="M208.0,640.4 l2.5,4.2 h-5 Z" fill="#111"/>
<path d="M211.0,640.7 l2.5,4.2 h-5 Z" fill="#111"/>
<line x1="138.3" y1="622.5" x2="157.1" y2="622.5" stroke="#111" stroke-width="1.5"/>
<path d="M147.7,620.5 V624.5 M144.2,620.5 H151.2 M144.2,624.5 H151.2" stroke="#111" stroke-width="1.2" fill="none"/>
<line x1="166.4" y1="642.5" x2="185.2" y2="642.5" stroke="#111" stroke-width="1.5"/>
<path d="M175.8,641.7 V643.3 M172.3,641.7 H179.3 M172.3,643.3 H179.3" stroke="#111" stroke-width="1.2" fill="none"/>
<line x1="195.1" y1="643.4" x2="213.9" y2="643.4" stroke="#111" stroke-width="1.5"/>
<text x="137.6" y="650.5" font-size="6.1" font-weight="bold" fill="#222" stroke="#222" stroke-width="0.25" textLength="19.9" lengthAdjust="spacingAndGlyphs" font-family="Liberation Sans, sans-serif">CD161++</text>
<text x="167.0" y="650.5" font-size="6.1" font-weight="bold" fill="#222" stroke="#222" stroke-width="0.25" textLength="18.2" lengthAdjust="spacingAndGlyphs" font-family="Liberation Sans, sans-serif">CD161+</text>
<text x="195.1" y="650.5" font-size="6.1" font-weight="bold" fill="#222" stroke="#222" stroke-width="0.25" textLength="15.5" lengthAdjust="spacingAndGlyphs" font-family="Liberation Sans, sans-serif">CD161-</text>
<text x="244.6" y="467.7" font-size="14.2" font-weight="bold" font-family="Liberation Sans, sans-serif">D</text>
<defs><pattern id="hd1" patternUnits="userSpaceOnUse" width="1.7" height="1.7" patternTransform="rotate(-45)"><rect width="1.7" height="1.7" fill="#c4c4c4"/><rect width="0.8" height="1.7" fill="#5a5a5a"/></pattern></defs>
<rect x="289.3" y="508.2" width="20.8" height="27.7" fill="url(#hd1)" stroke="#000" stroke-width="1.3"/>
<path d="M299.8,507.6 V503.8 M294.9,503.8 H304.6" stroke="#000" stroke-width="1.3" fill="none"/>
<rect x="320.0" y="533.0" width="21.8" height="2.9" fill="#111" stroke="#000" stroke-width="1.3"/>
<path d="M330.9,532.4 V531.2 M325.9,531.2 H336.0" stroke="#000" stroke-width="1.3" fill="none"/>
<rect x="352.6" y="534.1" width="20.9" height="1.8" fill="#111" stroke="#000" stroke-width="1.3"/>
<path d="M283.8,480.0 V535.9 H378.0" fill="none" stroke="#000" stroke-width="1.4"/>
<line x1="282.3" y1="535.9" x2="283.8" y2="535.9" stroke="#000" stroke-width="0.8"/>
<text x="281.8" y="537.5" text-anchor="end" font-size="4.6" font-weight="bold" fill="#333" font-family="Liberation Sans, sans-serif">0</text>
<line x1="282.3" y1="517.3" x2="283.8" y2="517.3" stroke="#000" stroke-width="0.8"/>
<text x="281.8" y="518.9" text-anchor="end" font-size="4.6" font-weight="bold" fill="#333" font-family="Liberation Sans, sans-serif">10</text>
<line x1="282.3" y1="498.6" x2="283.8" y2="498.6" stroke="#000" stroke-width="0.8"/>
<text x="281.8" y="500.2" text-anchor="end" font-size="4.6" font-weight="bold" fill="#333" font-family="Liberation Sans, sans-serif">20</text>
<line x1="282.3" y1="480.0" x2="283.8" y2="480.0" stroke="#000" stroke-width="0.8"/>
<text x="281.8" y="481.6" text-anchor="end" font-size="4.6" font-weight="bold" fill="#333" font-family="Liberation Sans, sans-serif">30</text>
<line x1="299.8" y1="535.9" x2="299.8" y2="537.9" stroke="#000" stroke-width="0.9"/>
<line x1="330.9" y1="535.9" x2="330.9" y2="537.9" stroke="#000" stroke-width="0.9"/>
<line x1="363.1" y1="535.9" x2="363.1" y2="537.9" stroke="#000" stroke-width="0.9"/>
<text transform="translate(301.4,541.1) rotate(-45)" text-anchor="end" font-size="6.2" font-weight="bold" fill="#222" font-family="Liberation Sans, sans-serif">CD161++</text>
<text transform="translate(332.6,541.1) rotate(-45)" text-anchor="end" font-size="6.2" font-weight="bold" fill="#222" font-family="Liberation Sans, sans-serif">CD161+</text>
<text transform="translate(364.7,541.1) rotate(-45)" text-anchor="end" font-size="6.2" font-weight="bold" fill="#222" font-family="Liberation Sans, sans-serif">CD161-</text>
<text x="311.3" y="474.9" font-size="8" font-weight="bold" fill="#222" textLength="21.2" lengthAdjust="spacingAndGlyphs" font-family="Liberation Sans, sans-serif">RORC</text>
<text transform="translate(265.9,506.7) rotate(-90)" text-anchor="middle" font-size="4.0" font-weight="bold" fill="#222" textLength="64.5" lengthAdjust="spacingAndGlyphs" font-family="Liberation Sans, sans-serif">Relative fold change compared</text>
<text transform="translate(271.1,506.7) rotate(-90)" text-anchor="middle" font-size="4.0" font-weight="bold" fill="#222" textLength="37.5" lengthAdjust="spacingAndGlyphs" font-family="Liberation Sans, sans-serif">to CD161- subset</text>
<defs><pattern id="hd2" patternUnits="userSpaceOnUse" width="1.7" height="1.7" patternTransform="rotate(-45)"><rect width="1.7" height="1.7" fill="#c4c4c4"/><rect width="0.8" height="1.7" fill="#5a5a5a"/></pattern></defs>
<rect x="424.5" y="499.9" width="20.8" height="34.4" fill="url(#hd2)" stroke="#000" stroke-width="1.3"/>
<path d="M434.9,499.3 V487.6 M430.1,487.6 H439.8" stroke="#000" stroke-width="1.3" fill="none"/>
<rect x="454.4" y="531.5" width="19.3" height="2.8" fill="#111" stroke="#000" stroke-width="1.3"/>
<path d="M464.1,530.8 V529.4 M459.6,529.4 H468.6" stroke="#000" stroke-width="1.3" fill="none"/>
<rect x="482.6" y="532.2" width="23.2" height="2.1" fill="#111" stroke="#000" stroke-width="1.3"/>
<path d="M419.8,479.6 V534.3 H513.3" fill="none" stroke="#000" stroke-width="1.4"/>
<line x1="418.3" y1="534.3" x2="419.8" y2="534.3" stroke="#000" stroke-width="0.8"/>
<text x="417.8" y="535.9" text-anchor="end" font-size="4.6" font-weight="bold" fill="#333" font-family="Liberation Sans, sans-serif">0</text>
<line x1="418.3" y1="516.1" x2="419.8" y2="516.1" stroke="#000" stroke-width="0.8"/>
<text x="417.8" y="517.7" text-anchor="end" font-size="4.6" font-weight="bold" fill="#333" font-family="Liberation Sans, sans-serif">10</text>
<line x1="418.3" y1="497.8" x2="419.8" y2="497.8" stroke="#000" stroke-width="0.8"/>
<text x="417.8" y="499.4" text-anchor="end" font-size="4.6" font-weight="bold" fill="#333" font-family="Liberation Sans, sans-serif">20</text>
<line x1="418.3" y1="479.6" x2="419.8" y2="479.6" stroke="#000" stroke-width="0.8"/>
<text x="417.8" y="481.2" text-anchor="end" font-size="4.6" font-weight="bold" fill="#333" font-family="Liberation Sans, sans-serif">30</text>
<line x1="434.9" y1="534.3" x2="434.9" y2="536.3" stroke="#000" stroke-width="0.9"/>
<line x1="464.1" y1="534.3" x2="464.1" y2="536.3" stroke="#000" stroke-width="0.9"/>
<line x1="494.2" y1="534.3" x2="494.2" y2="536.3" stroke="#000" stroke-width="0.9"/>
<text transform="translate(436.6,539.5) rotate(-45)" text-anchor="end" font-size="6.2" font-weight="bold" fill="#222" font-family="Liberation Sans, sans-serif">CD161++</text>
<text transform="translate(465.7,539.5) rotate(-45)" text-anchor="end" font-size="6.2" font-weight="bold" fill="#222" font-family="Liberation Sans, sans-serif">CD161+</text>
<text transform="translate(495.9,539.5) rotate(-45)" text-anchor="end" font-size="6.2" font-weight="bold" fill="#222" font-family="Liberation Sans, sans-serif">CD161-</text>
<text x="443.3" y="474.4" font-size="8" font-weight="bold" fill="#222" textLength="28.2" lengthAdjust="spacingAndGlyphs" font-family="Liberation Sans, sans-serif">ZBTB16</text>
<text transform="translate(399.3,506.8) rotate(-90)" text-anchor="middle" font-size="4.0" font-weight="bold" fill="#222" textLength="64.5" lengthAdjust="spacingAndGlyphs" font-family="Liberation Sans, sans-serif">Relative fold change compared</text>
<text transform="translate(405.0,506.8) rotate(-90)" text-anchor="middle" font-size="4.0" font-weight="bold" fill="#222" textLength="38.0" lengthAdjust="spacingAndGlyphs" font-family="Liberation Sans, sans-serif">to CD161- subset</text>
<defs><pattern id="hd3" patternUnits="userSpaceOnUse" width="1.7" height="1.7" patternTransform="rotate(-45)"><rect width="1.7" height="1.7" fill="#c4c4c4"/><rect width="0.8" height="1.7" fill="#5a5a5a"/></pattern></defs>
<rect x="289.4" y="615.9" width="19.9" height="25.3" fill="url(#hd3)" stroke="#000" stroke-width="1.3"/>
<path d="M299.4,615.3 V598.0 M294.7,598.0 H304.1" stroke="#000" stroke-width="1.3" fill="none"/>
<rect x="320.6" y="635.7" width="20.7" height="5.5" fill="#111" stroke="#000" stroke-width="1.3"/>
<path d="M331.0,635.1 V632.3 M326.2,632.3 H335.8" stroke="#000" stroke-width="1.3" fill="none"/>
<rect x="351.6" y="641.5" width="20.2" height="-0.2" fill="#111" stroke="#000" stroke-width="1.3"/>
<path d="M282.5,586.2 V641.2 H374.0" fill="none" stroke="#000" stroke-width="1.4"/>
<line x1="281.0" y1="641.2" x2="282.5" y2="641.2" stroke="#000" stroke-width="0.8"/>
<text x="280.5" y="642.9" text-anchor="end" font-size="4.6" font-weight="bold" fill="#333" font-family="Liberation Sans, sans-serif">0</text>
<line x1="281.0" y1="627.5" x2="282.5" y2="627.5" stroke="#000" stroke-width="0.8"/>
<text x="280.5" y="629.1" text-anchor="end" font-size="4.6" font-weight="bold" fill="#333" font-family="Liberation Sans, sans-serif">20</text>
<line x1="281.0" y1="613.8" x2="282.5" y2="613.8" stroke="#000" stroke-width="0.8"/>
<text x="280.5" y="615.4" text-anchor="end" font-size="4.6" font-weight="bold" fill="#333" font-family="Liberation Sans, sans-serif">40</text>
<line x1="281.0" y1="600.0" x2="282.5" y2="600.0" stroke="#000" stroke-width="0.8"/>
<text x="280.5" y="601.6" text-anchor="end" font-size="4.6" font-weight="bold" fill="#333" font-family="Liberation Sans, sans-serif">60</text>
<line x1="281.0" y1="586.2" x2="282.5" y2="586.2" stroke="#000" stroke-width="0.8"/>
<text x="280.5" y="587.9" text-anchor="end" font-size="4.6" font-weight="bold" fill="#333" font-family="Liberation Sans, sans-serif">80</text>
<line x1="299.4" y1="641.2" x2="299.4" y2="643.2" stroke="#000" stroke-width="0.9"/>
<line x1="331.0" y1="641.2" x2="331.0" y2="643.2" stroke="#000" stroke-width="0.9"/>
<line x1="361.8" y1="641.2" x2="361.8" y2="643.2" stroke="#000" stroke-width="0.9"/>
<text transform="translate(301.0,646.5) rotate(-45)" text-anchor="end" font-size="6.2" font-weight="bold" fill="#222" font-family="Liberation Sans, sans-serif">CD161++</text>
<text transform="translate(332.6,646.5) rotate(-45)" text-anchor="end" font-size="6.2" font-weight="bold" fill="#222" font-family="Liberation Sans, sans-serif">CD161+</text>
<text transform="translate(363.4,646.5) rotate(-45)" text-anchor="end" font-size="6.2" font-weight="bold" fill="#222" font-family="Liberation Sans, sans-serif">CD161-</text>
<text x="305.5" y="581.6" font-size="8" font-weight="bold" fill="#222" textLength="27.0" lengthAdjust="spacingAndGlyphs" font-family="Liberation Sans, sans-serif">IL18RAP</text>
<text transform="translate(264.3,613.8) rotate(-90)" text-anchor="middle" font-size="4.0" font-weight="bold" fill="#222" textLength="64.0" lengthAdjust="spacingAndGlyphs" font-family="Liberation Sans, sans-serif">Relative fold change compared</text>
<text transform="translate(270.6,613.8) rotate(-90)" text-anchor="middle" font-size="4.0" font-weight="bold" fill="#222" textLength="38.0" lengthAdjust="spacingAndGlyphs" font-family="Liberation Sans, sans-serif">to CD161- subset</text>
<defs><pattern id="hd4" patternUnits="userSpaceOnUse" width="1.7" height="1.7" patternTransform="rotate(-45)"><rect width="1.7" height="1.7" fill="#c4c4c4"/><rect width="0.8" height="1.7" fill="#5a5a5a"/></pattern></defs>
<rect x="425.0" y="607.0" width="20.3" height="34.3" fill="url(#hd4)" stroke="#000" stroke-width="1.3"/>
<path d="M435.2,606.4 V589.5 M430.4,589.5 H440.0" stroke="#000" stroke-width="1.3" fill="none"/>
<rect x="455.5" y="640.1" width="20.8" height="1.2" fill="#111" stroke="#000" stroke-width="1.3"/>
<path d="M419.8,587.0 V641.3 H512.0" fill="none" stroke="#000" stroke-width="1.4"/>
<line x1="418.3" y1="641.3" x2="419.8" y2="641.3" stroke="#000" stroke-width="0.8"/>
<text x="417.8" y="642.9" text-anchor="end" font-size="4.6" font-weight="bold" fill="#333" font-family="Liberation Sans, sans-serif">0</text>
<line x1="418.3" y1="623.2" x2="419.8" y2="623.2" stroke="#000" stroke-width="0.8"/>
<text x="417.8" y="624.8" text-anchor="end" font-size="4.6" font-weight="bold" fill="#333" font-family="Liberation Sans, sans-serif">10</text>
<line x1="418.3" y1="605.1" x2="419.8" y2="605.1" stroke="#000" stroke-width="0.8"/>
<text x="417.8" y="606.7" text-anchor="end" font-size="4.6" font-weight="bold" fill="#333" font-family="Liberation Sans, sans-serif">20</text>
<line x1="418.3" y1="587.0" x2="419.8" y2="587.0" stroke="#000" stroke-width="0.8"/>
<text x="417.8" y="588.6" text-anchor="end" font-size="4.6" font-weight="bold" fill="#333" font-family="Liberation Sans, sans-serif">30</text>
<line x1="435.2" y1="641.3" x2="435.2" y2="643.3" stroke="#000" stroke-width="0.9"/>
<line x1="465.9" y1="641.3" x2="465.9" y2="643.3" stroke="#000" stroke-width="0.9"/>
<line x1="496.0" y1="641.3" x2="496.0" y2="643.3" stroke="#000" stroke-width="0.9"/>
<text transform="translate(436.8,646.5) rotate(-45)" text-anchor="end" font-size="6.2" font-weight="bold" fill="#222" font-family="Liberation Sans, sans-serif">CD161++</text>
<text transform="translate(467.6,646.5) rotate(-45)" text-anchor="end" font-size="6.2" font-weight="bold" fill="#222" font-family="Liberation Sans, sans-serif">CD161+</text>
<text transform="translate(497.6,646.5) rotate(-45)" text-anchor="end" font-size="6.2" font-weight="bold" fill="#222" font-family="Liberation Sans, sans-serif">CD161-</text>
<text x="447.3" y="583.1" font-size="8" font-weight="bold" fill="#222" textLength="20.2" lengthAdjust="spacingAndGlyphs" font-family="Liberation Sans, sans-serif">IL23R</text>
<text transform="translate(399.8,614.2) rotate(-90)" text-anchor="middle" font-size="4.0" font-weight="bold" fill="#222" textLength="64.0" lengthAdjust="spacingAndGlyphs" font-family="Liberation Sans, sans-serif">Relative fold change compared</text>
<text transform="translate(406.4,614.2) rotate(-90)" text-anchor="middle" font-size="4.0" font-weight="bold" fill="#222" textLength="37.0" lengthAdjust="spacingAndGlyphs" font-family="Liberation Sans, sans-serif">to CD161- subset</text>
</svg></body></html>
